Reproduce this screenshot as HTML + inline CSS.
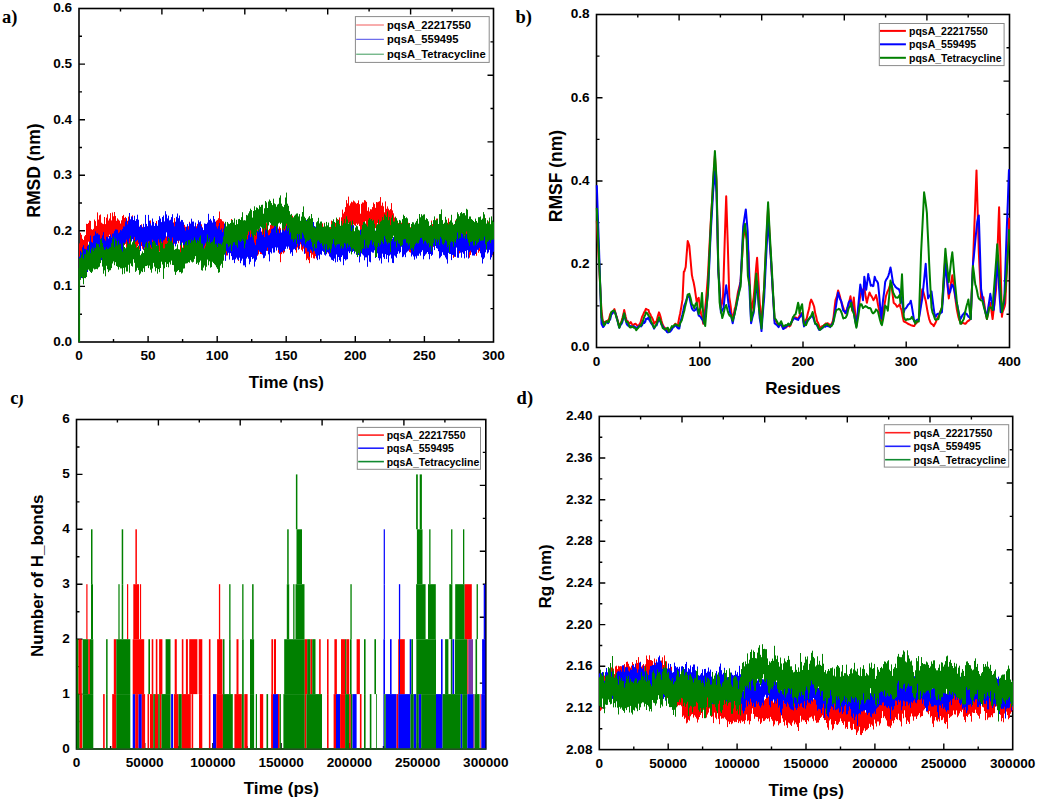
<!DOCTYPE html>
<html><head><meta charset="utf-8"><style>html,body{margin:0;padding:0;background:#fff;overflow:hidden}svg{display:block}</style></head>
<body><svg width="1038" height="802" viewBox="0 0 1038 802"><rect width="1038" height="802" fill="#fff"/><path d="M113.5 342V339M148.1 342V336M182.6 342V339M217.2 342V336M251.7 342V339M286.2 342V336M320.8 342V339M355.3 342V336M389.9 342V339M424.4 342V336M459 342V339M79 314.2H82M79 286.4H85M79 258.6H82M79 230.8H85M79 203H82M79 175.2H85M79 147.5H82M79 119.7H85M79 91.9H82M79 64.1H85M79 36.3H82M120.5 8.5V11.5M161.9 8.5V14.5M203.3 8.5V11.5M244.8 8.5V14.5M286.2 8.5V11.5M327.7 8.5V14.5M369.1 8.5V11.5M410.6 8.5V14.5M452.1 8.5V11.5M493.5 41.9H490.5M493.5 75.2H487.5M493.5 108.5H490.5M493.5 141.9H487.5M493.5 175.2H490.5M493.5 208.6H487.5M493.5 241.9H490.5M493.5 275.3H487.5M493.5 308.6H490.5" stroke="#000" stroke-width="1.4" fill="none"/><rect x="79" y="8.5" width="414.5" height="333.5" stroke="#000" stroke-width="1.6" fill="none"/><g font-family='"Liberation Sans", sans-serif' font-weight="bold" font-size="13.6" fill="#000"><text x="79" y="360" text-anchor="middle">0</text><text x="148.1" y="360" text-anchor="middle">50</text><text x="217.2" y="360" text-anchor="middle">100</text><text x="286.2" y="360" text-anchor="middle">150</text><text x="355.3" y="360" text-anchor="middle">200</text><text x="424.4" y="360" text-anchor="middle">250</text><text x="493.5" y="360" text-anchor="middle">300</text><text x="72.2" y="345.9" text-anchor="end">0.0</text><text x="72.2" y="290.3" text-anchor="end">0.1</text><text x="72.2" y="234.7" text-anchor="end">0.2</text><text x="72.2" y="179.1" text-anchor="end">0.3</text><text x="72.2" y="123.6" text-anchor="end">0.4</text><text x="72.2" y="68" text-anchor="end">0.5</text><text x="72.2" y="12.4" text-anchor="end">0.6</text></g><path d="M648.1 347.5V344.5M699.8 347.5V341.5M751.4 347.5V344.5M803 347.5V341.5M854.6 347.5V344.5M906.2 347.5V341.5M957.9 347.5V344.5M596.5 305.9H599.5M596.5 264.2H602.5M596.5 222.6H599.5M596.5 181H602.5M596.5 139.4H599.5M596.5 97.7H602.5M596.5 56.1H599.5M637.8 14.5V17.5M679.1 14.5V20.5M720.4 14.5V17.5M761.7 14.5V20.5M803 14.5V17.5M844.3 14.5V20.5M885.6 14.5V17.5M926.9 14.5V20.5M968.2 14.5V17.5M1009.5 47.8H1006.5M1009.5 81.1H1003.5M1009.5 114.4H1006.5M1009.5 147.7H1003.5M1009.5 181H1006.5M1009.5 214.3H1003.5M1009.5 247.6H1006.5M1009.5 280.9H1003.5M1009.5 314.2H1006.5" stroke="#000" stroke-width="1.4" fill="none"/><rect x="596.5" y="14.5" width="413" height="333" stroke="#000" stroke-width="1.6" fill="none"/><g font-family='"Liberation Sans", sans-serif' font-weight="bold" font-size="13.6" fill="#000"><text x="596.5" y="365.5" text-anchor="middle">0</text><text x="699.8" y="365.5" text-anchor="middle">100</text><text x="803" y="365.5" text-anchor="middle">200</text><text x="906.2" y="365.5" text-anchor="middle">300</text><text x="1009.5" y="365.5" text-anchor="middle">400</text><text x="589.7" y="351.4" text-anchor="end">0.0</text><text x="589.7" y="268.1" text-anchor="end">0.2</text><text x="589.7" y="184.9" text-anchor="end">0.4</text><text x="589.7" y="101.6" text-anchor="end">0.6</text><text x="589.7" y="18.4" text-anchor="end">0.8</text></g><path d="M110.6 749V746M144.7 749V743M178.8 749V746M212.9 749V743M247 749V746M281.1 749V743M315.3 749V746M349.4 749V743M383.5 749V746M417.6 749V743M451.7 749V746M76.5 721.5H79.5M76.5 694.1H82.5M76.5 666.6H79.5M76.5 639.2H82.5M76.5 611.7H79.5M76.5 584.2H82.5M76.5 556.8H79.5M76.5 529.3H82.5M76.5 501.9H79.5M76.5 474.4H82.5M76.5 447H79.5M117.4 419.5V422.5M158.4 419.5V425.5M199.3 419.5V422.5M240.2 419.5V425.5M281.1 419.5V422.5M322.1 419.5V425.5M363 419.5V422.5M403.9 419.5V425.5M444.9 419.5V422.5M485.8 452.4H482.8M485.8 485.4H479.8M485.8 518.4H482.8M485.8 551.3H479.8M485.8 584.2H482.8M485.8 617.2H479.8M485.8 650.1H482.8M485.8 683.1H479.8M485.8 716H482.8" stroke="#000" stroke-width="1.4" fill="none"/><rect x="76.5" y="419.5" width="409.3" height="329.5" stroke="#000" stroke-width="1.6" fill="none"/><g font-family='"Liberation Sans", sans-serif' font-weight="bold" font-size="13.6" fill="#000"><text x="76.5" y="767" text-anchor="middle">0</text><text x="144.7" y="767" text-anchor="middle">50000</text><text x="212.9" y="767" text-anchor="middle">100000</text><text x="281.1" y="767" text-anchor="middle">150000</text><text x="349.4" y="767" text-anchor="middle">200000</text><text x="417.6" y="767" text-anchor="middle">250000</text><text x="485.8" y="767" text-anchor="middle">300000</text><text x="69.7" y="752.9" text-anchor="end">0</text><text x="69.7" y="698" text-anchor="end">1</text><text x="69.7" y="643.1" text-anchor="end">2</text><text x="69.7" y="588.1" text-anchor="end">3</text><text x="69.7" y="533.2" text-anchor="end">4</text><text x="69.7" y="478.3" text-anchor="end">5</text><text x="69.7" y="423.4" text-anchor="end">6</text></g><path d="M633.8 749.6V746.6M668.2 749.6V743.6M702.6 749.6V746.6M737.1 749.6V743.6M771.5 749.6V746.6M806 749.6V743.6M840.5 749.6V746.6M874.9 749.6V743.6M909.4 749.6V746.6M943.8 749.6V743.6M978.2 749.6V746.6M599.3 728.8H602.3M599.3 707.9H605.3M599.3 687.1H602.3M599.3 666.3H605.3M599.3 645.5H602.3M599.3 624.6H605.3M599.3 603.8H602.3M599.3 583H605.3M599.3 562.2H602.3M599.3 541.3H605.3M599.3 520.5H602.3M599.3 499.7H605.3M599.3 478.9H602.3M599.3 458H605.3M599.3 437.2H602.3M640.6 416.4V419.4M682 416.4V422.4M723.3 416.4V419.4M764.7 416.4V422.4M806 416.4V419.4M847.3 416.4V422.4M888.7 416.4V419.4M930 416.4V422.4M971.4 416.4V419.4M1012.7 449.7H1009.7M1012.7 483H1006.7M1012.7 516.4H1009.7M1012.7 549.7H1006.7M1012.7 583H1009.7M1012.7 616.3H1006.7M1012.7 649.6H1009.7M1012.7 683H1006.7M1012.7 716.3H1009.7" stroke="#000" stroke-width="1.4" fill="none"/><rect x="599.3" y="416.4" width="413.4" height="333.2" stroke="#000" stroke-width="1.6" fill="none"/><g font-family='"Liberation Sans", sans-serif' font-weight="bold" font-size="13.6" fill="#000"><text x="599.3" y="767.6" text-anchor="middle">0</text><text x="668.2" y="767.6" text-anchor="middle">50000</text><text x="737.1" y="767.6" text-anchor="middle">100000</text><text x="806" y="767.6" text-anchor="middle">150000</text><text x="874.9" y="767.6" text-anchor="middle">200000</text><text x="943.8" y="767.6" text-anchor="middle">250000</text><text x="1012.7" y="767.6" text-anchor="middle">300000</text><text x="592.5" y="753.5" text-anchor="end">2.08</text><text x="592.5" y="711.8" text-anchor="end">2.12</text><text x="592.5" y="670.2" text-anchor="end">2.16</text><text x="592.5" y="628.5" text-anchor="end">2.20</text><text x="592.5" y="586.9" text-anchor="end">2.24</text><text x="592.5" y="545.2" text-anchor="end">2.28</text><text x="592.5" y="503.6" text-anchor="end">2.32</text><text x="592.5" y="461.9" text-anchor="end">2.36</text><text x="592.5" y="420.3" text-anchor="end">2.40</text></g><path d="M79.5 243.4V263M80.5 232.8V257.3M81.5 234.8V259.8M82.5 238.8V262.4M83.5 240V261M84.5 236.3V259.6M85.5 235V259.8M86.5 223.8V250.2M87.5 224V251.4M88.5 222.9V241.7M89.5 220.5V245.1M90.5 220.9V243.6M91.5 229.2V250.1M92.5 229.8V255.6M93.5 228.8V251.1M94.5 219.6V244.1M95.5 221.2V247.7M96.5 225.9V251.5M97.5 212.4V243.6M98.5 219.6V238.4M99.5 215.3V239.7M100.5 214.5V240.2M101.5 222.7V248.7M102.5 223.6V245.9M103.5 224.1V249.5M104.5 217V248.8M105.5 224.1V245.8M106.5 217.7V242.5M107.5 214.3V240.4M108.5 220.5V237.4M109.5 218.5V234.7M110.5 213.1V244.9M111.5 220.4V237.7M112.5 212.5V236.9M113.5 216.3V236.5M114.5 212V237.9M115.5 215.9V235.7M116.5 220.8V242.9M117.5 218.3V238.5M118.5 219.6V239.5M119.5 220.7V242.6M120.5 223.5V246.8M121.5 220.3V243.7M122.5 216.1V240.6M123.5 214.9V240.2M124.5 217.9V245.1M125.5 216.9V243.9M126.5 222V247.7M127.5 220.8V241.5M128.5 216.6V239.3M129.5 220V244.1M130.5 223.1V240.8M131.5 218.2V236.7M132.5 215.4V237.2M133.5 220.1V242.1M134.5 221.3V246.6M135.5 224.2V251.1M136.5 221.9V248.4M137.5 224.7V246.1M138.5 221.5V244.4M139.5 226.7V249.5M140.5 226.1V247.9M141.5 224.3V246.1M142.5 226.9V248.8M143.5 231.7V250.1M144.5 228.5V248.7M145.5 225.2V248.2M146.5 230.3V248.8M147.5 226.3V249M148.5 227.8V247.8M149.5 228.8V246.1M150.5 220.4V249M151.5 227.7V249.1M152.5 225.9V252.2M153.5 226.4V249.9M154.5 226.2V249.1M155.5 225V247.8M156.5 221V243.5M157.5 229V251M158.5 225.9V250.2M159.5 227.5V251.6M160.5 227.6V251.6M161.5 227.8V251.1M162.5 230.1V250.5M163.5 235.9V257.2M164.5 234.1V257.1M165.5 227.8V252.3M166.5 236.4V256M167.5 235.9V254.8M168.5 228.2V254.9M169.5 227.7V250.3M170.5 232.2V251.4M171.5 230.2V250.9M172.5 229.8V253M173.5 222.4V249.9M174.5 218.1V243.8M175.5 225.3V244.7M176.5 222.5V241.4M177.5 219.1V240.9M178.5 221.2V243.2M179.5 219.1V240.6M180.5 228.3V253.5M181.5 222.7V244.9M182.5 222.8V242.6M183.5 223.2V249.8M184.5 224.8V247.6M185.5 226.7V251.7M186.5 231V252M187.5 229.4V252.7M188.5 226.2V245M189.5 221.8V250.7M190.5 226.5V246.1M191.5 223.5V248.1M192.5 225.3V250.1M193.5 225.9V253.6M194.5 228.6V251.1M195.5 227.4V251.1M196.5 226.3V247.6M197.5 223.9V250.6M198.5 227.8V256.3M199.5 227.3V248.4M200.5 225V248.4M201.5 224.3V244.1M202.5 227.3V252M203.5 230.1V253.1M204.5 229.4V251.1M205.5 224.3V248.7M206.5 234.2V254.4M207.5 232.7V254.4M208.5 232.8V258M209.5 230.8V250.5M210.5 231.3V258.1M211.5 230.2V254.9M212.5 230V253.5M213.5 227.7V252.1M214.5 228V250.6M215.5 221.8V248M216.5 220.6V242.6M217.5 219.8V241.5M218.5 218.2V241M219.5 211.5V237.8M220.5 219V240.2M221.5 219.4V239.1M222.5 221.2V240.3M223.5 221.5V245.8M224.5 223.7V245.9M225.5 222.3V251.4M226.5 232.4V255.5M227.5 229.3V255.4M228.5 234.4V251.8M229.5 227V248.7M230.5 227.3V249.7M231.5 219V246.1M232.5 226.4V250.7M233.5 227.4V250.7M234.5 230.9V251.8M235.5 227.6V251.5M236.5 230.7V250.5M237.5 233.4V255.5M238.5 235.8V260.9M239.5 233.8V256.2M240.5 235.6V257M241.5 235.4V256.7M242.5 237.5V255.8M243.5 234.7V259M244.5 231.7V250.7M245.5 232V254M246.5 225.9V252.2M247.5 227.9V247.9M248.5 224.9V251.9M249.5 229.8V247.8M250.5 225.8V246.3M251.5 226.1V250.1M252.5 227V248.9M253.5 228.6V253.4M254.5 230.4V254.4M255.5 227.9V252.2M256.5 225.2V252.2M257.5 230.1V255.8M258.5 229.5V254.4M259.5 228.5V250.5M260.5 234.4V254M261.5 231.5V254.1M262.5 227.6V247.9M263.5 229.7V252.3M264.5 227V251.7M265.5 234V254.5M266.5 223.1V249.8M267.5 223.6V250.9M268.5 230.2V246.7M269.5 228.8V249.9M270.5 224.9V246.6M271.5 223.5V246.1M272.5 223.5V244M273.5 225.8V248.2M274.5 224.5V248.5M275.5 223.1V245.8M276.5 219.9V244.8M277.5 222.3V246.9M278.5 228.6V252.7M279.5 226.5V247.5M280.5 228.2V262.2M281.5 234.2V254.1M282.5 229.9V250.1M283.5 227.8V253.5M284.5 227.1V252.3M285.5 221.9V244.9M286.5 219.2V244.5M287.5 223.2V244.6M288.5 223.5V243.1M289.5 224.5V249.8M290.5 224.8V247.7M291.5 223.8V242.1M292.5 215.7V242.2M293.5 222.4V244.8M294.5 221.4V245.2M295.5 225.6V247.5M296.5 223.5V252.6M297.5 221.4V247.6M298.5 225.3V248.4M299.5 227.9V248.9M300.5 225.7V244.3M301.5 224.6V249.8M302.5 229.3V251.4M303.5 229V248.7M304.5 225.9V249.7M305.5 234.6V253.5M306.5 236V260.2M307.5 237V258.6M308.5 235V260.1M309.5 235.1V263.2M310.5 233.7V253.1M311.5 238.6V257.8M312.5 238.4V254.6M313.5 234V258.3M314.5 229.1V258.6M315.5 229.2V256.1M316.5 234.6V258.5M317.5 230.8V259.2M318.5 228.4V251M319.5 230.9V256M320.5 229.4V252.8M321.5 231.2V253.5M322.5 223.4V248.2M323.5 226.6V248.9M324.5 222.8V248.7M325.5 229.8V253.6M326.5 229.2V253.8M327.5 226.3V252.2M328.5 229.9V253.6M329.5 231.8V253.2M330.5 226.9V250.7M331.5 220.6V250.2M332.5 227.5V256.1M333.5 229.4V254.1M334.5 224.5V249.1M335.5 222.9V243.2M336.5 221.7V250.7M337.5 219V242.2M338.5 221.7V241.3M339.5 217.4V240.9M340.5 226.8V250.3M341.5 217.3V245.6M342.5 209.6V235.8M343.5 213.5V237M344.5 211.8V236.1M345.5 207.1V227.3M346.5 200.1V227.2M347.5 203.4V220.6M348.5 196.6V223.5M349.5 205.6V226.7M350.5 203.4V228.8M351.5 201.7V226M352.5 202.3V230.7M353.5 200.5V224.3M354.5 201.4V225.1M355.5 202.6V225.9M356.5 203.7V223.6M357.5 203V225.1M358.5 200.4V223.8M359.5 204.2V226.1M360.5 213.7V234.1M361.5 203.8V230M362.5 202.4V226.1M363.5 202.6V223.7M364.5 200.1V223.7M365.5 200.6V221.1M366.5 201.9V225.7M367.5 210.8V230.4M368.5 207.3V233.9M369.5 211.4V234M370.5 209.2V231.5M371.5 209.4V236.3M372.5 207.1V231.3M373.5 202.6V225.1M374.5 204.1V225.8M375.5 207.8V228.1M376.5 202V226.2M377.5 202.3V223.2M378.5 201.8V227.3M379.5 201.2V226.4M380.5 197.1V225M381.5 205.7V222.5M382.5 202.6V226.9M383.5 206.3V232.1M384.5 212.3V230.6M385.5 201.4V226.9M386.5 208.8V227.8M387.5 206.4V231M388.5 208.7V232.6M389.5 210.2V233M390.5 209.1V229.4M391.5 203.1V232.6M392.5 210.4V233.7M393.5 213.3V231.6M394.5 217.6V237.5M395.5 216.6V237.7M396.5 220.6V243.6M397.5 221.8V245.5M398.5 223V250.9M399.5 223.4V246.7M400.5 221.5V243.1M401.5 222.7V242.8M402.5 220.5V245.8M403.5 224.4V251.5M404.5 217.3V246.3M405.5 223.4V249.5M406.5 228.2V249.8M407.5 222.2V249.7M408.5 222.8V249.1M409.5 227.9V252.1M410.5 227.2V252.6M411.5 230.1V254.5M412.5 227V249.8M413.5 226.4V245.7M414.5 227.2V250M415.5 230.7V249.7M416.5 231.8V253.5M417.5 232.7V248.7M418.5 229.1V253.1M419.5 227.7V249.5M420.5 226.4V248.3M421.5 220.1V247.4M422.5 225.4V247.7M423.5 227.6V249.7M424.5 224.5V250.1M425.5 225.1V249.3M426.5 228.6V250.1M427.5 226.6V250.4M428.5 226V247M429.5 229.4V246.9M430.5 225.4V242.7M431.5 220.6V244.5M432.5 224.1V244.1M433.5 223V246.9M434.5 222.5V244.4M435.5 222.4V240.5M436.5 218.6V245.4M437.5 218.6V242.6M438.5 224.8V247.5M439.5 221.4V244.8M440.5 219.4V251.2M441.5 226.4V250.5M442.5 228.1V247.6M443.5 224.4V247.3M444.5 225.2V248.8M445.5 222.5V242.1M446.5 225.1V247.7M447.5 229.5V250.2M448.5 218.3V247.4M449.5 225.2V242.6M450.5 223.2V245.8M451.5 224.7V247.9M452.5 223.4V247.9M453.5 224.6V257.9M454.5 228.9V250.7M455.5 220.4V252.1M456.5 220.4V242.7M457.5 223.8V248.4M458.5 226.9V248.4M459.5 229.5V253.4M460.5 228.7V248.4M461.5 219.8V250.4M462.5 227.7V252.2M463.5 229.4V250.7M464.5 229.4V250.2M465.5 223.7V242.2M466.5 224.1V243.9M467.5 227.2V249.6M468.5 226.7V256.2M469.5 229.2V257.7M470.5 230.7V254.9M471.5 224.7V244M472.5 225.2V248.1M473.5 226.3V247.4M474.5 230.6V252.3M475.5 228V249.3M476.5 229.7V255.8M477.5 224.1V248.5M478.5 228.3V252.8M479.5 221.5V251.2M480.5 221.2V248.8M481.5 224.5V242.9M482.5 225.1V247.9M483.5 226.8V247.2M484.5 218.4V246M485.5 218.1V246.3M486.5 226V246.6M487.5 226.8V244.3M488.5 221.4V250.1M489.5 230.9V249.4M490.5 229.1V251.3M491.5 224.3V251.7M492.5 230.8V255.3M493.5 232.1V250.8" stroke="#ff0000" stroke-width="1.0" fill="none"/><path d="M79.5 256.7V282.9M80.5 250.8V277.2M81.5 252.6V278M82.5 247.3V276.7M83.5 245.2V271.4M84.5 248.7V270.1M85.5 249.1V273.7M86.5 249.4V268.9M87.5 246V272M88.5 244.7V268.3M89.5 241.6V267.6M90.5 235.5V261.8M91.5 241.9V262.3M92.5 242.7V267M93.5 236V258.7M94.5 235.4V257.9M95.5 231.5V255.2M96.5 233.7V259.7M97.5 233.2V258.1M98.5 234.5V260.6M99.5 234.7V256.9M100.5 238.9V261.4M101.5 237.9V260.2M102.5 235.4V257.8M103.5 232.1V254.4M104.5 238.8V258.6M105.5 240.7V259.5M106.5 236.8V257.9M107.5 236.8V264.4M108.5 238.4V258.9M109.5 236V255.3M110.5 234.5V258.7M111.5 237.3V258.7M112.5 233.6V258.4M113.5 233.4V255.2M114.5 231V251.6M115.5 229.4V256.2M116.5 229.5V252.1M117.5 229.8V250.1M118.5 233.2V249.7M119.5 232.2V255.9M120.5 229.9V252.5M121.5 230.5V254.9M122.5 229V253.8M123.5 226.4V250.8M124.5 226.6V244M125.5 221.6V242.4M126.5 218.2V239.7M127.5 224.4V247.4M128.5 220.8V246.9M129.5 213V238.6M130.5 219.3V237.4M131.5 216.4V241.5M132.5 216.7V239.2M133.5 220.1V242.1M134.5 215.8V237.1M135.5 220.9V241.8M136.5 219.1V240.8M137.5 214.7V240.1M138.5 219.7V242.7M139.5 226.8V246.2M140.5 225V251M141.5 225.5V242.1M142.5 227.8V246.2M143.5 223.8V249.6M144.5 226.9V247M145.5 214.9V244.7M146.5 223.9V252.5M147.5 226.4V250.2M148.5 214.9V241.4M149.5 220.7V242.1M150.5 223.4V244.9M151.5 225.5V247.5M152.5 218.5V239.7M153.5 221.8V242.9M154.5 226V247M155.5 223.1V244.6M156.5 224.1V245.6M157.5 225.8V247.7M158.5 220.1V239.5M159.5 216.2V242.6M160.5 218.5V239.9M161.5 222.1V241.8M162.5 217V243.3M163.5 215.5V240.5M164.5 221.4V239.7M165.5 211.2V237.7M166.5 214.4V232.4M167.5 218.4V241.1M168.5 215.7V237.3M169.5 220.4V239.1M170.5 219.7V245.7M171.5 217.1V241.2M172.5 214.2V237.5M173.5 223.1V259.2M174.5 226.3V242.9M175.5 221.7V246.4M176.5 216.8V243.8M177.5 213.5V240.5M178.5 218.2V241.4M179.5 215.5V240.5M180.5 221.5V245.2M181.5 219.9V246M182.5 220.1V242.4M183.5 222.3V245.2M184.5 227.4V246.1M185.5 230.6V251.1M186.5 226.7V252.1M187.5 224.1V248M188.5 229.6V249.6M189.5 222.6V248M190.5 223.6V245.8M191.5 218.7V243.3M192.5 221.6V245.5M193.5 221.5V244.1M194.5 226.3V245.6M195.5 222.6V245.1M196.5 228.2V251.7M197.5 225.5V251M198.5 220.3V246.2M199.5 222.2V240.6M200.5 221.3V246.5M201.5 226.1V246.7M202.5 228V251.3M203.5 230.2V251M204.5 223.5V245.6M205.5 223.8V243.4M206.5 224V244.9M207.5 222.6V242.5M208.5 213.8V241.8M209.5 220V238.6M210.5 218.8V245.3M211.5 220.6V245.7M212.5 222.5V243.5M213.5 216V241.5M214.5 219.1V237.2M215.5 221.8V247.9M216.5 226.5V246.1M217.5 228.5V251.6M218.5 226.1V250.6M219.5 223V257.2M220.5 229.9V249.9M221.5 228.4V250.3M222.5 232.1V250M223.5 228.5V253.7M224.5 223.6V247.8M225.5 228.9V260.9M226.5 229.5V251.3M227.5 228.8V254.5M228.5 231V252.8M229.5 234.3V259.6M230.5 235.3V253.2M231.5 232.4V256.1M232.5 236.6V260.1M233.5 241.1V259.7M234.5 240.2V263.1M235.5 237.8V259.3M236.5 237.6V257.7M237.5 236.2V259.5M238.5 239.1V260.1M239.5 236.5V257.7M240.5 230.9V263.2M241.5 236.8V260.7M242.5 233.9V258.7M243.5 238.3V265.4M244.5 234.9V265.4M245.5 241.2V267.2M246.5 236.5V258.5M247.5 239.5V256.9M248.5 235.2V258.7M249.5 231.2V264.3M250.5 237.2V261.8M251.5 233.4V257M252.5 234.1V259.1M253.5 235V258.4M254.5 242.6V266.6M255.5 245.1V261.6M256.5 239.3V259.7M257.5 231V254.8M258.5 228.3V250.1M259.5 229.6V251.7M260.5 227.7V252M261.5 232.1V252.9M262.5 234.9V254.7M263.5 233.1V258.3M264.5 237V257.8M265.5 229.9V255.7M266.5 229.4V250.9M267.5 227.5V247.6M268.5 235.3V254.3M269.5 235.1V261.4M270.5 233.1V252.2M271.5 229.1V253.5M272.5 228.7V248.3M273.5 227.9V252.6M274.5 224.2V252.5M275.5 223.2V247.3M276.5 225.9V250.6M277.5 227.2V247.6M278.5 229.7V249.9M279.5 233.1V253.9M280.5 229.8V252.8M281.5 232.5V251.8M282.5 224.3V252.3M283.5 229.5V250.4M284.5 231.1V251.1M285.5 229.6V248.9M286.5 225.8V246.6M287.5 224.6V248.7M288.5 227.9V246.6M289.5 225.7V248.6M290.5 225.7V253.6M291.5 233.8V252.2M292.5 229.2V255.9M293.5 229.7V249.5M294.5 231.3V248.9M295.5 224.8V250.2M296.5 225.6V247.1M297.5 224.3V243.9M298.5 223.2V249.7M299.5 219.5V246M300.5 223.1V242.3M301.5 221.9V244.6M302.5 225.8V246.9M303.5 225.8V245.5M304.5 227.7V253.9M305.5 220.9V247.4M306.5 220.1V248.2M307.5 223.6V251.5M308.5 224V251.8M309.5 226.2V256.8M310.5 225.9V249.5M311.5 223.4V250.7M312.5 226.7V252.7M313.5 222V244.4M314.5 226.1V251M315.5 226.7V253.8M316.5 234.9V257.5M317.5 235.6V260.1M318.5 233.8V255.5M319.5 233V259.3M320.5 236.6V254.3M321.5 227.3V254.8M322.5 228V250.9M323.5 228.4V251.9M324.5 230.9V254.7M325.5 232.6V255.6M326.5 227.5V254.2M327.5 226.6V252.2M328.5 236V252.6M329.5 234.1V256.4M330.5 230.8V257.4M331.5 233.3V259.7M332.5 234V260.1M333.5 238.5V261M334.5 238.3V258.6M335.5 236.7V262.4M336.5 233.6V254.5M337.5 234.3V261.8M338.5 231.1V257M339.5 235V260.2M340.5 240.8V261.7M341.5 237.6V257M342.5 233.3V255.4M343.5 238.9V265.2M344.5 240.4V259M345.5 236.7V260.5M346.5 238.3V259.5M347.5 234.9V259.2M348.5 228.7V251.4M349.5 225.7V253.1M350.5 228.9V251.4M351.5 225.2V252M352.5 229.6V252M353.5 225.2V251M354.5 235.1V253.5M355.5 228.9V250.9M356.5 230.2V254.9M357.5 227.1V250M358.5 235V255M359.5 234.8V262.4M360.5 229.8V256.7M361.5 229.7V253.4M362.5 234.1V254.4M363.5 235V255.5M364.5 237.6V260.3M365.5 228.6V257.4M366.5 233.1V257.4M367.5 239V266.8M368.5 234.6V255.4M369.5 238.8V261.7M370.5 238V262.3M371.5 232.4V251.8M372.5 228.9V252.6M373.5 227.6V252.7M374.5 232.5V250.3M375.5 230.7V258M376.5 235V256.8M377.5 232.2V253.3M378.5 233.6V258.1M379.5 234.9V260.5M380.5 235.5V258.4M381.5 236.2V263.5M382.5 235.1V253.7M383.5 239.3V257.2M384.5 235.1V258.9M385.5 229.3V254.1M386.5 233.2V259M387.5 236.5V255.1M388.5 237.3V262.4M389.5 231.7V255.7M390.5 234.4V254.6M391.5 235.3V258.5M392.5 238.9V262.9M393.5 237.1V263.1M394.5 236V255.5M395.5 234.8V256.5M396.5 234.3V257.8M397.5 231.8V253.9M398.5 231.1V251.3M399.5 234V253.5M400.5 228.5V252.2M401.5 226.9V246.8M402.5 230.5V257.2M403.5 235V256.6M404.5 229.3V254.6M405.5 232.5V257.2M406.5 231.4V252.6M407.5 228.9V251.5M408.5 228.2V250.7M409.5 228.2V249.4M410.5 231.2V249.7M411.5 233.4V256.5M412.5 231.9V254.7M413.5 235.3V256.4M414.5 235.4V259.7M415.5 236.1V256.4M416.5 236.3V258.5M417.5 232.6V255.7M418.5 232.2V255.8M419.5 234.5V253.6M420.5 232V255.6M421.5 228.7V251.9M422.5 228.7V250.3M423.5 236.2V259.3M424.5 233.3V256.1M425.5 231.3V254.6M426.5 234.9V253.6M427.5 232.1V252M428.5 230.4V254.1M429.5 230.6V259.3M430.5 231V254M431.5 229.2V255.9M432.5 228V254.8M433.5 224.1V246.1M434.5 226V250.1M435.5 227.4V246M436.5 227.4V248.1M437.5 225.8V248.7M438.5 231.6V251.2M439.5 229.6V258.4M440.5 232.8V257.3M441.5 229.2V255.9M442.5 231.5V252.3M443.5 235V254.8M444.5 237V255.4M445.5 233.3V257.5M446.5 237.4V259.4M447.5 237.4V263.6M448.5 235.4V252.9M449.5 230.8V253.9M450.5 224.4V254M451.5 231.7V260.1M452.5 233.2V254.9M453.5 230V255.1M454.5 236.7V256.8M455.5 231.7V256.9M456.5 228.1V247.6M457.5 227.2V257.7M458.5 229.6V257.8M459.5 230.8V251M460.5 225V252.7M461.5 232.6V257.7M462.5 234V252.2M463.5 233.2V253.8M464.5 235.7V258.4M465.5 233.5V251M466.5 234V257.6M467.5 231.2V250.2M468.5 237.3V258.6M469.5 233.8V252M470.5 226.7V250.7M471.5 233.7V252.4M472.5 229.9V255.5M473.5 235.7V255.5M474.5 233.4V255.6M475.5 237.3V254M476.5 231.3V252.6M477.5 230.3V249.8M478.5 224.9V249.8M479.5 228.2V247.9M480.5 233.8V253.3M481.5 229.5V257.4M482.5 235.2V263.5M483.5 239.1V259.1M484.5 232.9V257.6M485.5 234V252.3M486.5 233V249.4M487.5 232.5V253.5M488.5 228.7V252.4M489.5 228.3V249.8M490.5 228.3V259.6M491.5 229.8V257.3M492.5 230V254.7M493.5 230V251.8" stroke="#0000ff" stroke-width="1.0" fill="none"/><path d="M79.5 258.4V285.8M80.5 257.8V279.9M81.5 254.7V277M82.5 249.8V278.3M83.5 258.4V284.3M84.5 254.2V278M85.5 254.4V278.2M86.5 249.9V277M87.5 249.9V270.3M88.5 251.5V269.5M89.5 243.3V270.8M90.5 253.2V272.1M91.5 249.3V273M92.5 247.4V271.6M93.5 250.8V268.5M94.5 247.5V269.5M95.5 248.2V269.2M96.5 243.2V268.9M97.5 244.3V269.3M98.5 244.1V267.5M99.5 247.2V266.7M100.5 239.9V263.1M101.5 238.4V257.9M102.5 243V266.6M103.5 247.1V273.7M104.5 249.9V270.3M105.5 249.3V276.3M106.5 247.2V265.8M107.5 249.1V269.2M108.5 248.7V272.1M109.5 247.5V270.5M110.5 247.2V270.2M111.5 243.2V268.1M112.5 239V263.5M113.5 236.7V261.4M114.5 247.2V265.2M115.5 238.4V262.2M116.5 240.9V266M117.5 245.4V266.8M118.5 240.6V269.6M119.5 244.5V267.1M120.5 243.7V268.4M121.5 249.3V268.4M122.5 251.5V274.3M123.5 242.8V267.9M124.5 247V273.7M125.5 248.3V267.4M126.5 247.2V271.5M127.5 241.8V271.5M128.5 243.8V264.8M129.5 243.4V272.8M130.5 235.8V263.5M131.5 244.5V265.9M132.5 242.3V266.6M133.5 241V259.3M134.5 240.1V262.8M135.5 244.4V271.9M136.5 247.9V270.7M137.5 246.7V267.8M138.5 245.5V270.1M139.5 249.5V274.8M140.5 255.2V273.5M141.5 253.6V271.4M142.5 251.4V272.1M143.5 253V268.3M144.5 248.5V271.9M145.5 243.7V266.1M146.5 242V266M147.5 247.6V265.4M148.5 242.8V268.1M149.5 241.2V265.6M150.5 247.6V269.7M151.5 248.9V272.7M152.5 242.1V268.5M153.5 240.9V262.9M154.5 241.2V266.7M155.5 242.9V271.3M156.5 245.6V268.1M157.5 245.6V273.7M158.5 245.4V269.1M159.5 251.8V272.2M160.5 238.9V268M161.5 243.3V261.7M162.5 242.8V264.5M163.5 248.4V278.9M164.5 248.3V268.3M165.5 243.9V262.2M166.5 244V267M167.5 242.7V263.9M168.5 238.1V267.3M169.5 238.8V262.3M170.5 241.5V264.5M171.5 240.3V260.6M172.5 242.6V265M173.5 245.1V265.1M174.5 249.8V271.6M175.5 249.1V274.9M176.5 248.6V272.1M177.5 244.4V270.9M178.5 249.2V270M179.5 249.5V272.2M180.5 252.2V272M181.5 242.6V273.5M182.5 247.6V272.6M183.5 248.1V268.6M184.5 244.6V268.4M185.5 241.9V263.6M186.5 241V263.4M187.5 245V263.2M188.5 240V262.1M189.5 240V262.7M190.5 242.9V260.2M191.5 239.5V261.7M192.5 241.2V262.5M193.5 240V261.8M194.5 237.4V258.9M195.5 239.9V256.1M196.5 242.8V264M197.5 239.8V262.7M198.5 241.1V264.8M199.5 237.5V262.3M200.5 235.5V260.6M201.5 243.5V270.2M202.5 243.7V270.7M203.5 248.2V267.6M204.5 248.5V265.5M205.5 246.3V270.5M206.5 241.7V266.8M207.5 234.5V259.6M208.5 242V265.3M209.5 238.1V261.3M210.5 243.2V267.7M211.5 241.9V267.1M212.5 241.7V261.8M213.5 239.5V263M214.5 237.3V264.2M215.5 244.4V265.3M216.5 243.6V267.3M217.5 247V268.9M218.5 243.1V272.8M219.5 243.9V272.2M220.5 243.6V265.5M221.5 244.6V263.8M222.5 242.3V267.8M223.5 236.6V260.7M224.5 228.5V254.7M225.5 221.8V252.9M226.5 226.4V243.6M227.5 222V244.1M228.5 223.6V247.3M229.5 224.1V246.3M230.5 223V244.4M231.5 220.3V251.1M232.5 219.9V245.7M233.5 222.6V242.5M234.5 218.4V242.2M235.5 224.9V245.2M236.5 219.8V245.2M237.5 224.1V247.7M238.5 219.2V240.1M239.5 218.9V241.5M240.5 220V242M241.5 217.2V240.8M242.5 212.2V239.1M243.5 220.4V241.1M244.5 220.1V248.3M245.5 220.5V243.6M246.5 214.9V239.5M247.5 215.4V234.8M248.5 213.4V231.4M249.5 211.3V231.8M250.5 208.7V230.4M251.5 210.1V233.8M252.5 217.6V236.7M253.5 211V239.9M254.5 206.3V234.9M255.5 210.1V235.9M256.5 207.4V232.6M257.5 207.9V229.8M258.5 209.2V232M259.5 205.3V228.7M260.5 206.9V226.6M261.5 204.9V227.3M262.5 204.7V228.6M263.5 213.7V233.7M264.5 208.3V228.3M265.5 201V230.4M266.5 202.4V222.8M267.5 208V232.7M268.5 201.5V225.5M269.5 199.5V222.1M270.5 200.9V223.2M271.5 203.1V225.2M272.5 205.1V225.7M273.5 198.7V225.9M274.5 203.4V226.5M275.5 204.2V226M276.5 206.7V232.8M277.5 204.6V226.8M278.5 203.8V223.5M279.5 197.7V222.7M280.5 195.4V224.1M281.5 203.7V222.8M282.5 206.2V230.6M283.5 207.1V228.4M284.5 204.8V229.2M285.5 197.5V226.1M286.5 192.6V223.7M287.5 203.7V231M288.5 205.8V228.2M289.5 211.1V234.6M290.5 214.7V232.5M291.5 213.9V239.4M292.5 217.4V239.2M293.5 217.3V241.9M294.5 215.7V239.5M295.5 214.6V238.9M296.5 213.6V243.8M297.5 213.4V234M298.5 216.4V239.9M299.5 214.1V234M300.5 220.8V238.7M301.5 216.6V239.2M302.5 212V232.7M303.5 206.4V234.7M304.5 216.7V238.3M305.5 218.2V243.7M306.5 220.8V242M307.5 218.9V240.7M308.5 217.5V240.8M309.5 216.1V239.9M310.5 218.7V238.9M311.5 214V242M312.5 218.1V246.7M313.5 226.7V251.5M314.5 226.7V244M315.5 227.9V248.3M316.5 222.3V247.9M317.5 221.2V241.3M318.5 217.8V240.2M319.5 223.4V241.9M320.5 221.6V243.8M321.5 221.5V243M322.5 226.8V245.8M323.5 227V248.8M324.5 223.4V244.4M325.5 226.4V253.3M326.5 221.9V244.2M327.5 225.4V249.5M328.5 222.6V249.7M329.5 227.1V247.7M330.5 228.8V252.8M331.5 224.3V248.8M332.5 221.2V243.8M333.5 219.3V239.2M334.5 222V244.7M335.5 226.7V247.4M336.5 217.6V245.1M337.5 220.8V244.2M338.5 219.8V244.2M339.5 224.1V243.9M340.5 225.8V248.5M341.5 221V246M342.5 225.4V248.7M343.5 223.2V247.3M344.5 218.8V243M345.5 223.3V243.7M346.5 216.3V248.2M347.5 219.5V243.5M348.5 223.8V246.9M349.5 222V244.9M350.5 221.3V247M351.5 231V254.4M352.5 220.6V248.5M353.5 228.3V249.2M354.5 231.2V251.3M355.5 227.5V251.7M356.5 225.5V254.2M357.5 226.3V257.1M358.5 229.7V253.2M359.5 230.5V256M360.5 234.7V250.5M361.5 229.5V252.8M362.5 224.9V248.9M363.5 222V248.4M364.5 221.8V239.7M365.5 223.5V248.7M366.5 224.7V245.3M367.5 226.5V247.7M368.5 219.7V247.8M369.5 218V244.6M370.5 219.7V240.6M371.5 219V240.2M372.5 220.9V244.7M373.5 219.9V242.3M374.5 223.7V246.2M375.5 230.9V257M376.5 225.4V257M377.5 224.2V247M378.5 219.7V243.1M379.5 224.1V246.4M380.5 221.6V244.3M381.5 220.6V240.5M382.5 217.1V242.1M383.5 220V243.9M384.5 214.3V236.1M385.5 215.4V239M386.5 217V241.9M387.5 211.5V244.3M388.5 220.2V242.6M389.5 216.9V243.1M390.5 225.1V252.1M391.5 217.8V241.1M392.5 215.3V238.4M393.5 221.5V235.7M394.5 221.5V241.7M395.5 217.3V241.3M396.5 218.2V247.3M397.5 220.6V240.4M398.5 223.8V243.4M399.5 219.9V243.7M400.5 220.6V246.4M401.5 223.9V245.8M402.5 219.1V244.9M403.5 214.7V239.7M404.5 216V239.2M405.5 218.1V239.2M406.5 217.3V242.7M407.5 218.4V243.3M408.5 223.9V245.6M409.5 223V243.6M410.5 228V250M411.5 224V248.2M412.5 222.2V248.5M413.5 222.4V251.2M414.5 224.4V246.2M415.5 222.6V243.9M416.5 220.9V242.7M417.5 218.8V243.6M418.5 223.7V243.1M419.5 214V240.2M420.5 217.3V238M421.5 214.2V237.8M422.5 215.7V239.9M423.5 214.6V243.6M424.5 214.3V241.2M425.5 219.8V240.5M426.5 218.2V242.6M427.5 219.1V244.5M428.5 221.3V243M429.5 225.9V247.4M430.5 225V245.8M431.5 222.4V251.5M432.5 226.1V246.3M433.5 220.1V242.9M434.5 216.4V238.8M435.5 220.2V245.4M436.5 220.3V239.6M437.5 218.9V242.2M438.5 224V239.7M439.5 214.1V245.1M440.5 214.1V237M441.5 209.4V238.8M442.5 220.1V243.7M443.5 223.9V244.8M444.5 222.7V242.8M445.5 216.8V239.8M446.5 219.7V241.2M447.5 222.7V247.1M448.5 224.2V244.9M449.5 221.9V252.4M450.5 220.4V242.6M451.5 214.8V241.3M452.5 222.6V242.1M453.5 225V246.8M454.5 224V241.5M455.5 221.2V242.9M456.5 218.7V239.1M457.5 212.3V232.5M458.5 214.2V239.3M459.5 216.2V237.9M460.5 213.1V237.8M461.5 212V233.2M462.5 213.6V233.6M463.5 213V238M464.5 213.1V235.3M465.5 215.4V239M466.5 208.8V231.5M467.5 209.7V238.8M468.5 218.9V242.5M469.5 216.5V245.9M470.5 216.5V242M471.5 219.1V242M472.5 219.9V240.9M473.5 221V245.4M474.5 222.1V245.5M475.5 218.6V241.2M476.5 221V245M477.5 222.7V243.2M478.5 217.2V242.1M479.5 217.2V238.7M480.5 216.5V241M481.5 219.8V240.6M482.5 218.6V240.5M483.5 212.1V240.5M484.5 214.4V236.6M485.5 218.4V244.3M486.5 223.6V249.5M487.5 220.2V242M488.5 222.5V241.2M489.5 217.6V239.9M490.5 224.2V243.1M491.5 216.4V240.2M492.5 220.5V239.8M493.5 221.8V239.4" stroke="#008000" stroke-width="1.0" fill="none"/><path d="M596.8 220.8 L597.8 241.1 L598.9 260.3 L599.9 280.7 L600.9 300.2 L601.5 310.7 L603.1 323.7 L604 321.8 L604.7 322.1 L606.3 321.3 L607.1 321.6 L608.1 320.1 L608.8 319.7 L610.2 314.3 L611.2 312.4 L612.2 313.2 L613.3 312.4 L614.4 309.1 L615.3 312.3 L616.4 316.2 L616.9 317.2 L617.4 319.4 L618.4 323 L619.3 327 L620.5 324 L621.7 320.5 L622.5 317.8 L623.6 313.3 L624.2 309.9 L625.6 316.5 L626.6 320.5 L627.7 321.2 L629 323.7 L629.8 323.4 L630.7 322.1 L631.8 323.8 L633.1 325.3 L633.9 324.6 L634.9 323.9 L635.5 323.7 L637 325.4 L637.9 326.1 L639 325.1 L640.4 322.9 L641.1 320.3 L642.1 316.7 L642.8 315.6 L644.2 312.2 L645.2 310.5 L646 308.8 L647.3 309.6 L648.5 309.9 L649.3 312.9 L650.4 314.4 L650.9 315.6 L652.4 318.4 L653.4 320.9 L654.1 323.7 L655.5 322 L656.6 321.3 L657.6 316.9 L659 312.4 L659.6 313.8 L660.7 317.4 L661.4 320.5 L662.7 324.7 L663.9 327 L664.8 327.8 L665.8 328.7 L667.1 330.2 L667.9 329.6 L668.9 330.2 L669.5 331 L671 329.3 L672 327.9 L672.8 327 L674 326.1 L675.2 323.7 L676.1 324.8 L677.1 325.4 L677.6 326.1 L678.2 323.2 L679.3 317.2 L680.2 313.2 L681.3 307 L682.5 299.4 L683.8 271.9 L684.3 271.6 L685.7 267 L686.4 257.6 L687.7 241.1 L688.5 243.4 L689.3 245.9 L690.5 259.3 L691.9 275.1 L692.6 278.4 L693.6 282.3 L694.7 288.1 L695.7 295.2 L696.8 302.6 L697.7 299.2 L698.7 297.8 L699.8 305.3 L701.1 314 L701.9 316.1 L703.2 323.7 L703.9 323.3 L704.9 311 L706 299.8 L707 287.8 L707.9 276.2 L709.1 253 L710.5 226.4 L711.1 216.1 L712.2 199.3 L713.1 184.5 L714.2 167.3 L714.9 155.7 L716.5 181.9 L717.3 221 L718.3 270.9 L719.4 284.7 L720.4 299.2 L720.9 307.6 L722.5 301.2 L723 297.1 L724.6 244.7 L725.5 216.3 L726.2 196.3 L727.8 244.7 L728.6 272.9 L729.3 297.1 L730.7 306.4 L731.4 312.8 L732.7 320.7 L733.8 314 L734.8 308.4 L735.3 307.6 L735.8 305 L736.9 298.6 L738 291.9 L738.9 288.4 L740 284 L740.6 281.4 L742 258.9 L743.2 239.5 L744.1 233.8 L745 229 L746.6 236.9 L747.2 241.3 L748.4 252.6 L749.2 270.9 L750.3 294.3 L751.1 312.8 L752.3 305.7 L753.7 297.1 L754.4 289.3 L755.4 276.5 L756.4 264.6 L757.1 257.8 L758.5 282.4 L759.7 302.3 L760.6 312.9 L761.5 325.9 L762.6 310 L764.2 286.6 L764.7 275.7 L765.7 255.2 L766.7 234.6 L768.1 208.1 L768.8 221 L769.8 239.5 L770.7 255.2 L771.9 275.8 L772.9 293.2 L774 310.3 L774.6 320.7 L776 321.3 L777 323.2 L778.6 325.9 L779.1 325.7 L780.1 325.3 L781.1 323.8 L782.2 326.1 L783.1 327.7 L784.3 327.4 L785.7 327.7 L786.3 327.3 L787.3 326 L788.4 325.6 L789.6 326.4 L790.4 325.6 L791.5 322.5 L792.9 318.6 L793.5 317.7 L794.6 318.1 L795.5 317.2 L796.6 318 L798.1 318.6 L798.7 317.7 L799.7 315.5 L800.7 313.2 L802.1 313.3 L802.8 316.8 L804 323.8 L804.9 322.8 L805.9 319.8 L806.7 318.6 L807.9 313 L809.3 308.1 L810 303.1 L811.2 299.6 L812.1 301.4 L813.2 304.2 L814.1 306.5 L815.2 313.3 L816.2 316.7 L817.1 321.2 L818.2 323.1 L819.8 327.7 L820.3 327.4 L821.3 326.8 L822.4 326 L823.4 325.6 L824.3 325.1 L825.5 323.5 L827 323.8 L827.5 323.3 L828.5 323.6 L829.6 325 L830.2 326.4 L831.6 323.8 L832.8 321.2 L833.7 315.8 L834.7 306.6 L835.5 300.2 L836.8 296.6 L838.1 290.4 L838.8 292.5 L839.9 296.2 L841.4 302.8 L841.9 303.2 L843 306.7 L844 309.8 L845.3 313.3 L846.1 311.6 L847.1 308.6 L848.6 305.5 L849.1 302.2 L850.5 296.3 L851.2 301.5 L852.2 310.7 L853.3 302.1 L853.8 297.6 L854.3 304 L855.3 314.4 L856.4 325.1 L857.4 316.6 L858.4 309.3 L859.4 302.1 L860.3 295 L861.5 292.2 L862.5 290.1 L863.6 288.9 L864.3 287.1 L865.6 296.3 L866.9 302.8 L867.7 298.9 L868.7 295.2 L869.5 292.4 L870.8 295.4 L871.8 296.7 L872.8 298.6 L873.4 300.2 L874.9 297.8 L876 295 L877 299.1 L878 304.7 L878.7 308.1 L880 313.5 L881.1 317 L881.9 321.2 L883.1 312 L884.2 306.8 L885.2 300.6 L885.9 296.3 L887.3 292 L888.5 289.8 L889.3 287.3 L890.3 284.2 L891.1 283.2 L892.4 292.9 L893.7 302.8 L894.5 303.6 L895.5 304.3 L897 306.8 L897.6 306.4 L898.6 305.7 L899.6 304.2 L900.6 307.8 L901.5 309.9 L902.7 316.8 L903.8 321.4 L904.8 322 L905.8 322.3 L906.8 322.9 L907.9 323.8 L908.9 324.2 L909.9 324.7 L910.9 325.2 L912 325.4 L913 326 L914.2 326.1 L915.1 324.2 L916.1 323.2 L917.1 322.4 L918.2 320.4 L918.8 319.1 L920.2 306.9 L921.2 297.7 L922.3 289.2 L923.3 291.7 L924.3 295.4 L925.7 300.7 L926.4 304.9 L927.4 310.8 L928.5 316.1 L929.2 319.1 L930.5 322.6 L931.5 324 L932.6 324.4 L933.8 326.1 L934.6 324.5 L935.7 322.5 L936.7 320 L937.7 317.9 L938.8 315.4 L939.8 312.6 L940.8 310.4 L941.9 307.6 L942.9 293.3 L943.9 277.7 L945.4 256.9 L946 264.7 L947 278.4 L948 290.9 L948.8 298.4 L950.1 288.9 L951.1 282.1 L952.3 275.3 L953.2 281.7 L954.2 289.7 L955.2 297.3 L956.3 305.7 L956.9 309.9 L958.3 316.6 L959.4 320.2 L960.3 321.4 L961.4 323.6 L962.4 323 L963.5 323.1 L965 323.7 L965.5 323.7 L966.6 322.5 L967.6 321.2 L968.6 320.8 L969.7 319.6 L970.7 316.8 L971.7 293.9 L973 263.8 L973.8 241.5 L974.8 214.9 L975.8 188.1 L976.5 170.4 L977.9 219.8 L978.8 252.3 L980 276.9 L981.1 298.4 L982 298.5 L983.4 297.2 L984.1 302.3 L985.1 309.4 L986.1 315.3 L986.9 319.1 L988.2 312.7 L989.2 307.5 L990.3 303 L991.3 309.9 L992.6 319.1 L993.3 313 L994.4 304.8 L995.4 295.7 L996.1 289.2 L997.5 251.1 L998.5 222.5 L999.1 207.3 L1000.6 264.7 L1001.9 316.8 L1002.6 312.2 L1003.6 309.5 L1004.7 306.2 L1005.3 303 L1006.7 272.6 L1007.8 251.1 L1008.8 229.2 L1009 217.7" fill="none" stroke="#ff0000" stroke-width="2.0" stroke-linejoin="round"/><path d="M596.8 185.3 L597.8 214.1 L598.9 244.8 L599.9 276.3 L600.9 307.3 L601.5 323.7 L603.1 327 L604 326.1 L604.7 323.7 L606.3 322.1 L607.1 322.3 L608.1 323.1 L608.8 321.3 L610.2 319.3 L611.2 314.8 L612.2 313.7 L613.3 311.4 L614.4 311.6 L615.3 312.8 L616.4 316.8 L616.9 318.8 L617.4 320.2 L618.4 324.6 L619.3 327.8 L620.5 325.1 L621.7 323.7 L622.5 321.6 L623.6 316.8 L624.2 314 L625.6 319.6 L626.6 323.7 L627.7 325.4 L629 326.1 L629.8 326.8 L630.8 325.9 L631.8 326.8 L633.1 327 L633.9 326.2 L634.9 326.9 L636.3 327.8 L637 327.9 L638 326.9 L639 326.2 L640.4 325.3 L641.1 326.4 L642.1 325.2 L643.6 321.3 L644.2 323 L645.2 321.9 L646 318.8 L647.3 319 L648.5 317.2 L649.3 320 L650.4 321.8 L650.9 322.9 L652.4 324.9 L653.4 326.9 L654.1 328.6 L655.5 325.6 L656.6 325.3 L657.6 322.4 L659 318.8 L659.6 320.2 L660.7 322.2 L661.4 324.5 L662.7 325.9 L663.9 328.6 L664.8 328.7 L665.8 330.3 L666.8 331.8 L667.9 332.5 L668.7 331.8 L669.9 331.9 L671 330.6 L672 329.1 L672.8 327.8 L674 326.8 L675.2 325.3 L676.1 325.7 L677.1 327.2 L678.2 328.4 L679.3 328.6 L680.2 323 L681.7 317.2 L682.3 314.9 L683.3 310.5 L684.3 305.4 L684.9 304.3 L686.4 299.9 L687.7 296.2 L688.5 296.7 L689.3 296.2 L690.5 302.5 L691.9 308.3 L692.6 309.6 L693.6 310.6 L694.2 310.7 L695.7 309.4 L696.8 307.5 L697.7 311.4 L698.7 315.6 L699.8 316.2 L700.7 317.2 L701.9 319.1 L703.2 320.5 L703.9 323.3 L704.9 316.9 L706 309.5 L707 301.9 L707.9 294.5 L709.1 269 L710.5 236.9 L711.1 226.5 L712.2 208.1 L713.1 192.4 L714.2 179.7 L714.9 171.4 L716.5 192.4 L717.3 225.7 L718.3 270.9 L719.4 286.2 L720.4 302.8 L720.9 312.8 L722.5 310 L723.6 307.6 L724.5 298.6 L725.5 290.5 L726.2 285.3 L727.6 296.1 L728.3 302.3 L730.1 312.8 L730.7 314.2 L731.7 318.9 L732.7 323.3 L733.8 317.6 L734.8 312.4 L735.3 310.2 L735.8 308.8 L736.9 303.3 L738 297.1 L738.9 291.8 L740 286.1 L740.6 281.4 L742 252 L743.2 226.4 L744.1 220.4 L745.1 213.9 L745.8 209.4 L747.7 231.6 L748.2 249.3 L749.2 281.5 L749.8 297.1 L750.3 307.7 L751.1 323.3 L752.3 317.8 L753.7 312.8 L754.4 306.7 L755.4 297.7 L756.4 287.6 L757.1 281.4 L758.5 300.7 L759.7 318.1 L760.6 323.4 L761.5 331.1 L762.6 316 L764.2 297.1 L764.7 286.8 L765.7 265.9 L766.7 246.2 L768.1 218.6 L768.8 229.4 L769.8 243.3 L770.7 255.2 L771.9 275.6 L772.9 293.4 L774 312.1 L774.6 323.3 L776 324.5 L777 325.1 L778.6 327.2 L779.1 325.5 L780.1 323.8 L781.1 323.8 L782.2 326.6 L783.1 329 L784.3 328.4 L785.7 326.4 L786.3 326.7 L787.3 325.6 L788.4 324.6 L789.6 325.1 L790.4 324 L791.5 321.8 L792.9 319.9 L793.5 318.2 L794.6 318.5 L795.5 318.6 L796.6 319.3 L798.1 319.9 L798.7 318.8 L799.7 317.3 L800.7 316 L802.1 313.3 L802.8 317.6 L804 326.4 L804.9 324.6 L805.9 322.6 L806.7 321.2 L807.9 320.6 L809.3 318.6 L810 318 L811 316.7 L812.6 315.9 L813.1 317.4 L814.1 320.2 L815.2 323.8 L816.2 324.3 L817.2 325.8 L818.4 328.4 L819.3 329.9 L820.3 329.4 L821.1 329 L822.4 328.1 L823.4 327.1 L824.3 326.4 L825.5 326.7 L827 324.4 L827.5 326 L828.5 326.4 L829.6 326 L830.2 327.1 L831.6 324.4 L832.8 323.8 L833.7 319.5 L834.7 314 L836.1 305.5 L836.8 300.6 L838.1 292.4 L838.8 295.1 L839.9 298.7 L841.4 301.5 L841.9 304.6 L843.3 310.7 L844 311.1 L845 311.9 L845.9 313.3 L847.1 308.9 L848.6 302.8 L849.1 301.8 L850.5 300.2 L851.2 302.4 L852.2 305.7 L853.3 309.9 L853.8 313.3 L854.3 315.4 L855.3 321.3 L856.4 326.4 L857.4 315.6 L858.4 304.5 L859.4 293.9 L860.3 284.5 L861.5 290.6 L863 300.2 L863.6 290.3 L864.3 276.7 L865.6 285.4 L866.2 289.8 L867.7 278.8 L868.2 274 L868.7 276.7 L869.7 280.4 L870.8 285.8 L871.8 285.1 L872.8 286.2 L873.4 285.8 L874.7 276.7 L875.9 280.3 L877 281.2 L878 283.2 L879 292.8 L880 304.8 L881.3 318.6 L882.1 309.7 L883.1 299.6 L884.2 291.6 L885.2 281.9 L886.2 279.6 L887.3 278.1 L888.5 275.3 L889.3 272.5 L890.5 267.5 L891.4 272.3 L892.4 279 L893.1 283.2 L894.5 285.2 L895.7 287.1 L896.5 287.7 L897.6 288.8 L898.6 288.7 L899.6 291.1 L900.6 295.2 L901.7 300.7 L902.7 305.4 L903.8 312.2 L904.8 308.9 L905.8 308.4 L906.8 307 L907.9 305 L908.9 304.1 L909.9 303.1 L910.8 300.7 L912 307.3 L913 313.6 L914.2 321.4 L915.1 321.3 L916.1 320.5 L917.1 319.8 L918.2 319.6 L918.8 319.1 L920.2 311.1 L921.2 304.7 L922.3 298.4 L923.3 288 L924.3 278.2 L925.7 263.8 L926.4 275 L927.4 289.5 L928.1 298.4 L929.5 295.8 L930.5 294.8 L931.5 291.5 L932.6 300 L933.6 307.8 L935 316.8 L935.7 316.8 L936.7 314.6 L937.7 313.8 L938.8 313.8 L939.8 313.5 L940.8 313.1 L941.9 312.2 L942.9 299 L943.9 284.6 L945.4 263.8 L946 269.9 L947 279.1 L948 288.6 L948.8 293.8 L950.1 291.9 L951.1 287.7 L951.8 284.5 L953.2 286.2 L954.6 291.5 L955.2 295 L956.3 301.2 L957.3 305.3 L958.3 310 L959.4 315.7 L960.3 319.1 L961.4 317.4 L962.4 315.1 L963.5 314 L965 312.2 L965.5 313.7 L966.6 313.8 L967.6 315.4 L968.6 316.8 L969.7 317.4 L970.7 319.1 L971.7 294.6 L973 263.8 L973.8 256.7 L974.8 246.4 L975.8 235.6 L977.2 222.3 L977.9 218.6 L978.8 215.4 L980 252 L981.1 289.2 L982 294.2 L983.4 303 L984.1 306.1 L985.1 310.6 L986.1 315 L986.9 316.8 L988.2 307.6 L989.2 301.4 L990.3 293.8 L991.3 299.7 L992.3 304.7 L993.8 309.9 L994.4 301.2 L995.4 287.2 L996.4 273.2 L997.2 261.5 L998.5 279.1 L999.5 294.7 L1000.7 312.2 L1001.6 311.5 L1002.6 308.4 L1003.6 304.2 L1004.2 303 L1004.7 287.5 L1005.7 259.1 L1006.7 230.9 L1007.8 202.6 L1008.8 173.8 L1009 169.2" fill="none" stroke="#0000ff" stroke-width="2.0" stroke-linejoin="round"/><path d="M596.8 208 L597.8 232.3 L598.9 255.3 L599.9 278.7 L600.9 303 L601.5 317.2 L603 322.3 L603.9 325.3 L605 324.5 L606.3 321.3 L607.1 321.8 L608.1 321.5 L608.8 322.1 L610.2 317.1 L611.2 312.4 L612.2 311.3 L613.3 310.6 L614.4 310.7 L615.3 313.4 L616.4 317.1 L616.9 318.8 L617.4 320.2 L618.4 324.1 L619.3 327.8 L620.5 324.2 L621.7 322.1 L622.5 319.7 L623.6 315.2 L624.2 313.2 L625.6 320.1 L626.6 322.1 L627.7 322 L629 325.3 L629.8 327.3 L630.8 327.6 L631.8 326.5 L633.1 327 L633.9 327.7 L634.9 327.8 L636.3 330.2 L637 329.2 L638 328.1 L639 326.9 L640.4 325.3 L641.1 325.5 L642.1 322.8 L643.6 318.8 L644.2 317.1 L645.2 314.8 L646 312.4 L647.3 313.4 L648.5 315.6 L649.3 316.2 L650.4 318.1 L650.9 321.3 L652.4 323.8 L653.4 326.4 L654.1 327.8 L655.5 326.1 L656.6 323.7 L657.6 321.4 L659 317.2 L659.6 318.7 L660.7 321.3 L661.4 323.7 L662.7 328 L663.9 328.6 L664.8 329.6 L665.8 329 L666.8 328.2 L667.9 327.8 L668.7 331.8 L669.9 330 L671 327.9 L672 326.1 L672.8 327 L674 325.4 L675.2 324.5 L676.1 324.4 L677.1 325.2 L678.2 325.4 L679.3 326.1 L680.2 323 L681.7 320.5 L682.3 318.3 L683.3 314.2 L684.3 310.8 L684.9 307.5 L686.4 301.6 L687.7 294.5 L688.5 294.6 L689.3 293.7 L690.5 297.7 L691.9 304.3 L692.6 304.8 L693.6 306.3 L694.2 308.3 L695.7 303.7 L696.8 302.6 L697.7 308.1 L698.7 314 L699.8 309.4 L700.7 307.5 L702 292.9 L702.9 308.7 L703.6 320.5 L705.2 326.1 L706 316.1 L707 302.6 L707.9 291.9 L709.1 262.5 L710.5 231.6 L711.1 218.4 L712.2 199.1 L713.1 179.3 L714.2 163.3 L714.9 151 L716.5 179.3 L717.3 217.4 L718.3 265.7 L719.6 302.3 L720.4 308.1 L721.4 312.9 L722.3 318.1 L723.5 313.7 L724.9 307.6 L725.5 306.4 L726.2 305 L727.6 310.6 L728.8 314.1 L729.7 315.8 L730.9 315.4 L731.7 318 L732.7 320.7 L733.8 316.8 L734.8 313.5 L735.3 310.2 L735.8 307.9 L736.9 301.7 L738 297.1 L738.9 293.3 L740 288.8 L740.6 286.6 L742 258.6 L743.2 234.3 L744.1 229.3 L745 223.8 L746.6 239.5 L747.2 255.6 L747.9 276.2 L749.2 283.9 L749.8 286.6 L750.3 300.4 L751.1 320.7 L752.3 314.9 L753.7 310.2 L754.4 300.6 L755.4 286 L756.3 273.5 L757.5 289.5 L758.9 307.6 L759.5 312.7 L760.6 320.2 L761.5 328.5 L762.6 309.7 L764.2 286.6 L764.7 273.7 L765.7 251.5 L766.7 229.6 L768.1 202.3 L768.8 215.8 L769.8 234.4 L770.7 250 L771.9 270.3 L772.9 289.6 L774 308.1 L774.6 318.1 L776 319.7 L777 321.5 L778.6 324.6 L779.1 324.7 L780.1 323.1 L781.1 321.2 L782.2 324 L783.1 326.4 L784.3 325.9 L785.7 325.1 L786.3 325.5 L787.3 324.8 L788.4 323.5 L789.6 325.1 L790.4 324.5 L791.5 322.3 L792.9 317.2 L793.5 316.8 L794.6 314.7 L795.5 314.6 L796.6 309.9 L798.1 302.8 L798.7 305.3 L799.5 313.3 L800.7 307.8 L802.1 304.2 L802.8 311.4 L804 323.8 L804.9 325.4 L806 325.1 L806.9 322.9 L807.9 319.9 L809.3 318.6 L810 317.3 L811 316.3 L812.6 312 L813.1 313.7 L814.1 318.6 L815.2 323.8 L816.2 323.6 L817.2 324.7 L818.4 327.7 L819.3 329.3 L820.3 329.8 L821.1 328.4 L822.4 327.7 L823.4 326.7 L824.3 325.1 L825.5 324.9 L827 323.8 L827.5 324.5 L828.5 325.4 L829.6 325.9 L830.2 326.4 L831.6 326.1 L832.8 323.8 L833.7 321 L834.7 316 L836.1 310.7 L836.8 309.7 L838.1 309.4 L838.8 308.8 L839.9 309.4 L840.7 310.7 L841.9 313.7 L843.3 318.6 L844 317.9 L845 318.1 L845.9 317.2 L847.1 314.8 L848.6 308.1 L849.1 307.7 L850.2 306.1 L851.2 302.8 L852.2 309.3 L853.3 312.5 L853.8 313.3 L854.3 316.1 L855.3 322.1 L856.4 327.7 L857.4 321.9 L858.4 315.6 L859.4 308.3 L860.3 304.2 L861.5 304.2 L863 308.1 L863.6 307.2 L864.6 306.9 L865.6 306.1 L866.9 306.8 L867.7 307.6 L868.7 308.2 L869.7 307.9 L870.8 308.7 L871.8 311.7 L872.8 313.2 L873.4 313.3 L874.9 311.8 L876 309.4 L877 310.3 L878 311.8 L878.7 314.6 L880 320 L881.1 323.7 L881.9 325.1 L883.1 319.3 L884.2 312.9 L885.2 305.5 L886.2 306.8 L887.3 308.9 L887.8 310.7 L889.3 294.8 L890.5 280.6 L891.4 283.8 L892.4 288.5 L893.1 292.4 L894.5 295.3 L895.7 297.6 L896.5 297.6 L897.6 297.8 L898.6 296.7 L899.6 295 L900.4 303 L902 274.2 L902.7 290 L903.8 316.8 L904.8 319.1 L905.8 320.2 L907.3 319.1 L907.9 319.4 L908.9 319.2 L909.9 319 L910.9 318.6 L911.9 316.8 L913 319 L914 320.4 L915.4 323.7 L916.1 321.2 L917.1 321.4 L918.2 321.3 L918.8 321.4 L920.2 279.3 L921.1 252.3 L922.3 228.8 L923.3 208.9 L924.1 192.3 L925.4 200.8 L926.4 208.7 L926.9 213 L927.4 225.2 L928.5 247.6 L929.2 263.8 L930.5 289.2 L931.5 307.6 L932.6 312.7 L933.6 314.9 L935 319.1 L935.7 320 L936.7 319.4 L937.7 318.8 L938.4 319.1 L939.8 313.4 L940.8 310.7 L941.9 307.6 L942.9 290.7 L943.9 273.3 L945.4 248.8 L946 255.4 L947 265 L948 274.7 L948.8 282.2 L950.1 270.3 L951.1 260.9 L952.3 252.3 L953.2 262.2 L954.2 274 L955.2 285.2 L956.3 296 L956.9 303 L958.3 311.3 L959.4 318.1 L960.3 323.7 L961.4 323.5 L962.4 321.4 L963.8 319.1 L964.5 315.7 L965.5 310.5 L966.6 305.8 L967.6 302.5 L968.4 299.5 L969.7 310.9 L970.7 319.1 L971.7 295.3 L973 266.1 L973.8 271.8 L974.8 280.5 L975.3 284.5 L975.8 285.8 L976.9 290.3 L977.9 295.7 L978.8 298.4 L980 299.5 L981 300.4 L982.3 300.7 L983 303.3 L984.1 308 L985.1 311.5 L986.1 315.3 L986.9 319.1 L988.2 313.4 L989.2 307.6 L990.3 307.4 L991.3 307.8 L992.6 309.9 L993.3 297.6 L994.4 283.6 L995.4 270.7 L996.4 256.7 L997.2 244.2 L998.5 263 L999.5 277.4 L1000.6 292.4 L1001.9 312.2 L1002.6 307.9 L1003.6 302.2 L1004.7 295.3 L1005.3 291.5 L1006.7 270.8 L1007.8 254.6 L1008.8 240.7 L1009 229.2" fill="none" stroke="#008000" stroke-width="2.0" stroke-linejoin="round"/><rect x="76.5" y="694.1" width="3.1" height="54.9" fill="#008000"/><rect x="79.6" y="694.1" width="2.6" height="54.9" fill="#ff0000"/><rect x="82.6" y="694.1" width="10.7" height="54.9" fill="#008000"/><rect x="103.1" y="694.1" width="1.6" height="54.9" fill="#ff0000"/><rect x="106.1" y="694.1" width="1.5" height="54.9" fill="#008000"/><rect x="112.2" y="694.1" width="4.1" height="54.9" fill="#ff0000"/><rect x="116.3" y="694.1" width="14" height="54.9" fill="#008000"/><rect x="132.7" y="694.1" width="2.5" height="54.9" fill="#0000ff"/><rect x="135.2" y="694.1" width="3.3" height="54.9" fill="#ff0000"/><rect x="138.5" y="694.1" width="3.3" height="54.9" fill="#0000ff"/><rect x="141.8" y="694.1" width="3.3" height="54.9" fill="#ff0000"/><rect x="147.5" y="694.1" width="1.6" height="54.9" fill="#ff0000"/><rect x="150" y="694.1" width="3.3" height="54.9" fill="#ff0000"/><rect x="153.3" y="694.1" width="1.6" height="54.9" fill="#008000"/><rect x="154.9" y="694.1" width="3.3" height="54.9" fill="#ff0000"/><rect x="158.2" y="694.1" width="1.6" height="54.9" fill="#008000"/><rect x="159.9" y="694.1" width="1.6" height="54.9" fill="#ff0000"/><rect x="161.5" y="694.1" width="9" height="54.9" fill="#008000"/><rect x="171.1" y="694.1" width="2" height="54.9" fill="#0000ff"/><rect x="173.9" y="694.1" width="2.1" height="54.9" fill="#ff0000"/><rect x="176" y="694.1" width="2.5" height="54.9" fill="#ff0000"/><rect x="178.5" y="694.1" width="3.3" height="54.9" fill="#008000"/><rect x="181.8" y="694.1" width="9" height="54.9" fill="#ff0000"/><rect x="191.6" y="694.1" width="1.6" height="54.9" fill="#ff0000"/><rect x="199" y="694.1" width="3.3" height="54.9" fill="#ff0000"/><rect x="208.9" y="694.1" width="1.6" height="54.9" fill="#ff0000"/><rect x="213" y="694.1" width="3.3" height="54.9" fill="#0000ff"/><rect x="216.3" y="694.1" width="6.6" height="54.9" fill="#ff0000"/><rect x="222.9" y="694.1" width="9.9" height="54.9" fill="#008000"/><rect x="234.4" y="694.1" width="7.4" height="54.9" fill="#ff0000"/><rect x="241.8" y="694.1" width="2" height="54.9" fill="#008000"/><rect x="244.3" y="694.1" width="3.3" height="54.9" fill="#ff0000"/><rect x="250" y="694.1" width="4.1" height="54.9" fill="#008000"/><rect x="255.8" y="694.1" width="1.2" height="54.9" fill="#008000"/><rect x="259.9" y="694.1" width="3.3" height="54.9" fill="#ff0000"/><rect x="266.5" y="694.1" width="1.6" height="54.9" fill="#008000"/><rect x="271.1" y="694.1" width="2" height="54.9" fill="#ff0000"/><rect x="273" y="694.1" width="3" height="54.9" fill="#0000ff"/><rect x="276" y="694.1" width="2" height="54.9" fill="#0000ff"/><rect x="278" y="694.1" width="1.6" height="54.9" fill="#ff0000"/><rect x="279.6" y="694.1" width="1.3" height="54.9" fill="#008000"/><rect x="283.4" y="694.1" width="21.4" height="54.9" fill="#008000"/><rect x="304.8" y="694.1" width="1.6" height="54.9" fill="#ff0000"/><rect x="306.4" y="694.1" width="15.6" height="54.9" fill="#008000"/><rect x="327" y="694.1" width="1.6" height="54.9" fill="#ff0000"/><rect x="333.6" y="694.1" width="2.5" height="54.9" fill="#ff0000"/><rect x="336" y="694.1" width="4.1" height="54.9" fill="#0000ff"/><rect x="340.1" y="694.1" width="4.9" height="54.9" fill="#ff0000"/><rect x="345.1" y="694.1" width="4.1" height="54.9" fill="#008000"/><rect x="349.2" y="694.1" width="1.6" height="54.9" fill="#ff0000"/><rect x="350.8" y="694.1" width="1.6" height="54.9" fill="#008000"/><rect x="352.5" y="694.1" width="4.1" height="54.9" fill="#0000ff"/><rect x="359.9" y="694.1" width="1.6" height="54.9" fill="#ff0000"/><rect x="364" y="694.1" width="1.6" height="54.9" fill="#008000"/><rect x="369.8" y="694.1" width="1.6" height="54.9" fill="#008000"/><rect x="376" y="694.1" width="0.8" height="54.9" fill="#008000"/><rect x="383.4" y="694.1" width="0.8" height="54.9" fill="#0000ff"/><rect x="384.2" y="694.1" width="1.6" height="54.9" fill="#008000"/><rect x="385.9" y="694.1" width="10.7" height="54.9" fill="#0000ff"/><rect x="396.6" y="694.1" width="1.6" height="54.9" fill="#ff0000"/><rect x="398.2" y="694.1" width="12.3" height="54.9" fill="#0000ff"/><rect x="410.5" y="694.1" width="3.3" height="54.9" fill="#008000"/><rect x="413.8" y="694.1" width="2.5" height="54.9" fill="#0000ff"/><rect x="416.3" y="694.1" width="2.5" height="54.9" fill="#008000"/><rect x="418.8" y="694.1" width="2.5" height="54.9" fill="#0000ff"/><rect x="421.2" y="694.1" width="14.8" height="54.9" fill="#008000"/><rect x="436" y="694.1" width="6.6" height="54.9" fill="#0000ff"/><rect x="442.6" y="694.1" width="18.1" height="54.9" fill="#008000"/><rect x="460.7" y="694.1" width="1.6" height="54.9" fill="#0000ff"/><rect x="462.3" y="694.1" width="4.9" height="54.9" fill="#008000"/><rect x="467.3" y="694.1" width="5.8" height="54.9" fill="#0000ff"/><rect x="473" y="694.1" width="1.6" height="54.9" fill="#7a3aa8"/><rect x="474.7" y="694.1" width="4.9" height="54.9" fill="#008000"/><rect x="480.4" y="694.1" width="0.8" height="54.9" fill="#ff0000"/><rect x="481.3" y="694.1" width="4.1" height="54.9" fill="#0000ff"/><rect x="76.5" y="639.2" width="2" height="54.9" fill="#008000"/><rect x="78.5" y="639.2" width="3.3" height="54.9" fill="#ff0000"/><rect x="82.6" y="639.2" width="5.8" height="54.9" fill="#008000"/><rect x="88.3" y="639.2" width="1.6" height="54.9" fill="#ff0000"/><rect x="90" y="639.2" width="3.3" height="54.9" fill="#008000"/><rect x="106.1" y="639.2" width="1.5" height="54.9" fill="#008000"/><rect x="113.8" y="639.2" width="2.5" height="54.9" fill="#ff0000"/><rect x="116.3" y="639.2" width="14" height="54.9" fill="#008000"/><rect x="132.7" y="639.2" width="11.5" height="54.9" fill="#ff0000"/><rect x="148.4" y="639.2" width="1.6" height="54.9" fill="#008000"/><rect x="151.7" y="639.2" width="1.6" height="54.9" fill="#ff0000"/><rect x="155.8" y="639.2" width="1.6" height="54.9" fill="#ff0000"/><rect x="159.1" y="639.2" width="3.3" height="54.9" fill="#ff0000"/><rect x="165.6" y="639.2" width="4.9" height="54.9" fill="#008000"/><rect x="174.7" y="639.2" width="1.3" height="54.9" fill="#ff0000"/><rect x="176" y="639.2" width="0.8" height="54.9" fill="#ff0000"/><rect x="181.8" y="639.2" width="1.6" height="54.9" fill="#ff0000"/><rect x="185.9" y="639.2" width="2" height="54.9" fill="#ff0000"/><rect x="189.2" y="639.2" width="8.2" height="54.9" fill="#ff0000"/><rect x="198.7" y="639.2" width="3.6" height="54.9" fill="#ff0000"/><rect x="208.9" y="639.2" width="1.6" height="54.9" fill="#ff0000"/><rect x="217.1" y="639.2" width="5.3" height="54.9" fill="#ff0000"/><rect x="222.9" y="639.2" width="1.6" height="54.9" fill="#008000"/><rect x="229.1" y="639.2" width="1.5" height="54.9" fill="#008000"/><rect x="236.5" y="639.2" width="2" height="54.9" fill="#ff0000"/><rect x="242.1" y="639.2" width="1.6" height="54.9" fill="#008000"/><rect x="250" y="639.2" width="4.1" height="54.9" fill="#008000"/><rect x="271.4" y="639.2" width="1.6" height="54.9" fill="#ff0000"/><rect x="273.9" y="639.2" width="2.1" height="54.9" fill="#ff0000"/><rect x="284.2" y="639.2" width="20.6" height="54.9" fill="#008000"/><rect x="304.8" y="639.2" width="2.5" height="54.9" fill="#ff0000"/><rect x="307.2" y="639.2" width="3.3" height="54.9" fill="#008000"/><rect x="310.5" y="639.2" width="1.6" height="54.9" fill="#ff0000"/><rect x="312.2" y="639.2" width="3.3" height="54.9" fill="#008000"/><rect x="319.1" y="639.2" width="1.6" height="54.9" fill="#ff0000"/><rect x="327" y="639.2" width="1.6" height="54.9" fill="#ff0000"/><rect x="334.4" y="639.2" width="2.5" height="54.9" fill="#ff0000"/><rect x="341" y="639.2" width="4.1" height="54.9" fill="#ff0000"/><rect x="345.1" y="639.2" width="1.3" height="54.9" fill="#008000"/><rect x="346.4" y="639.2" width="2.8" height="54.9" fill="#ff0000"/><rect x="350" y="639.2" width="1.6" height="54.9" fill="#008000"/><rect x="356.6" y="639.2" width="3.3" height="54.9" fill="#ff0000"/><rect x="364" y="639.2" width="1.6" height="54.9" fill="#008000"/><rect x="374.4" y="639.2" width="1.6" height="54.9" fill="#008000"/><rect x="383.4" y="639.2" width="1.6" height="54.9" fill="#0000ff"/><rect x="390" y="639.2" width="1.6" height="54.9" fill="#0000ff"/><rect x="398.2" y="639.2" width="6.6" height="54.9" fill="#ff0000"/><rect x="399" y="639.2" width="1" height="54.9" fill="#0000ff"/><rect x="409.7" y="639.2" width="1.6" height="54.9" fill="#0000ff"/><rect x="411.4" y="639.2" width="1.6" height="54.9" fill="#008000"/><rect x="416.3" y="639.2" width="19.7" height="54.9" fill="#008000"/><rect x="441" y="639.2" width="1.6" height="54.9" fill="#0000ff"/><rect x="445.1" y="639.2" width="3.3" height="54.9" fill="#008000"/><rect x="450.8" y="639.2" width="1.6" height="54.9" fill="#008000"/><rect x="452.5" y="639.2" width="1.6" height="54.9" fill="#0000ff"/><rect x="454.9" y="639.2" width="12.3" height="54.9" fill="#008000"/><rect x="467.3" y="639.2" width="1.2" height="54.9" fill="#ff0000"/><rect x="468.4" y="639.2" width="4.6" height="54.9" fill="#7a3aa8"/><rect x="475.5" y="639.2" width="1.6" height="54.9" fill="#008000"/><rect x="482.1" y="639.2" width="3.3" height="54.9" fill="#0000ff"/><rect x="86.3" y="584.2" width="1.2" height="54.9" fill="#ff0000"/><rect x="91" y="584.2" width="2" height="54.9" fill="#008000"/><rect x="118.4" y="584.2" width="1.2" height="54.9" fill="#008000"/><rect x="121.7" y="584.2" width="1.5" height="54.9" fill="#008000"/><rect x="127" y="584.2" width="1.2" height="54.9" fill="#ff0000"/><rect x="133.3" y="584.2" width="5.7" height="54.9" fill="#ff0000"/><rect x="139.9" y="584.2" width="1.2" height="54.9" fill="#ff0000"/><rect x="218.9" y="584.2" width="1.3" height="54.9" fill="#ff0000"/><rect x="229.2" y="584.2" width="1.3" height="54.9" fill="#008000"/><rect x="242.2" y="584.2" width="1.3" height="54.9" fill="#008000"/><rect x="252.1" y="584.2" width="1.5" height="54.9" fill="#008000"/><rect x="286.8" y="584.2" width="2.4" height="54.9" fill="#008000"/><rect x="293.2" y="584.2" width="1.3" height="54.9" fill="#008000"/><rect x="295.5" y="584.2" width="9" height="54.9" fill="#008000"/><rect x="350.4" y="584.2" width="1.3" height="54.9" fill="#008000"/><rect x="383.7" y="584.2" width="1.2" height="54.9" fill="#0000ff"/><rect x="398.9" y="584.2" width="1.3" height="54.9" fill="#0000ff"/><rect x="416.1" y="584.2" width="9.5" height="54.9" fill="#008000"/><rect x="428" y="584.2" width="7.8" height="54.9" fill="#008000"/><rect x="449.3" y="584.2" width="3.1" height="54.9" fill="#008000"/><rect x="455.2" y="584.2" width="9.5" height="54.9" fill="#008000"/><rect x="464.7" y="584.2" width="7.1" height="54.9" fill="#ff0000"/><rect x="476.6" y="584.2" width="1.3" height="54.9" fill="#008000"/><rect x="483.7" y="584.2" width="1.6" height="54.9" fill="#0000ff"/><rect x="91" y="529.3" width="1.5" height="54.9" fill="#008000"/><rect x="121.7" y="529.3" width="1.5" height="54.9" fill="#008000"/><rect x="135.4" y="529.3" width="1.5" height="54.9" fill="#ff0000"/><rect x="287.2" y="529.3" width="1.5" height="54.9" fill="#008000"/><rect x="296.5" y="529.3" width="5.5" height="54.9" fill="#008000"/><rect x="383.7" y="529.3" width="1.2" height="54.9" fill="#0000ff"/><rect x="416.9" y="529.3" width="5.6" height="54.9" fill="#008000"/><rect x="429.2" y="529.3" width="1.3" height="54.9" fill="#008000"/><rect x="451.1" y="529.3" width="1.3" height="54.9" fill="#008000"/><rect x="463" y="529.3" width="1.3" height="54.9" fill="#008000"/><rect x="295.9" y="474.4" width="1.5" height="54.9" fill="#008000"/><rect x="416.1" y="474.4" width="1.7" height="54.9" fill="#008000"/><rect x="419.7" y="474.4" width="2.2" height="54.9" fill="#008000"/><path d="M599.5 681.1V701.8M600.5 679.3V710.9M601.5 683.6V709.6M602.5 678.7V696.2M603.5 675V701.4M604.5 675.6V703.1M605.5 681.9V703.1M606.5 674V700.5M607.5 674.5V697.8M608.5 674.6V695.1M609.5 677.4V697.4M610.5 671.1V693.6M611.5 667.4V694.7M612.5 668.6V689M613.5 668.6V693.1M614.5 674.1V691.3M615.5 666.4V696M616.5 665.7V692.5M617.5 669.1V691.9M618.5 665.8V690.3M619.5 666.4V687.5M620.5 666.1V685.2M621.5 666.3V689.8M622.5 665.8V689.3M623.5 667.5V689.7M624.5 664.1V688.1M625.5 666.8V692.1M626.5 661.9V684.7M627.5 661.6V686.6M628.5 663.8V687.6M629.5 666.4V686.2M630.5 667.6V692.5M631.5 665.7V691.2M632.5 662.1V685.9M633.5 664V689.1M634.5 666.9V691M635.5 664.4V690M636.5 660V684.1M637.5 662.9V681.9M638.5 657.1V690M639.5 663.6V686.9M640.5 661.7V689M641.5 666.6V688.8M642.5 665.3V687.7M643.5 664V688.8M644.5 665.8V688.8M645.5 664.3V685.9M646.5 655.5V686.2M647.5 659.1V680.8M648.5 660V682.1M649.5 655.3V679.1M650.5 660V681.8M651.5 660.2V685.8M652.5 661V687.1M653.5 664.9V693.4M654.5 658.5V683.7M655.5 662.8V686.8M656.5 659.4V691.1M657.5 669V697.4M658.5 663.7V693.4M659.5 670.1V692.4M660.5 667.2V695.4M661.5 660.5V686.8M662.5 657.3V681.4M663.5 665V685.1M664.5 655.4V691.2M665.5 667.5V690.5M666.5 661.3V688.7M667.5 671.4V698.1M668.5 674.5V698.7M669.5 668.2V691.3M670.5 668.4V691.4M671.5 666.8V699.1M672.5 674.9V701.1M673.5 683.1V714.3M674.5 684.9V707.3M675.5 682.9V709.2M676.5 679.1V703.9M677.5 684.8V706.3M678.5 683.2V705.1M679.5 684.2V705.3M680.5 678.6V704.9M681.5 679.4V706.3M682.5 694.9V716.9M683.5 691.6V715.6M684.5 691.6V718.9M685.5 693.2V717.6M686.5 698.3V723.4M687.5 691.2V722.5M688.5 698.8V719.8M689.5 692.9V720.7M690.5 693V716.3M691.5 694.7V714.6M692.5 691.2V714M693.5 692V717.6M694.5 697.7V715.3M695.5 691.3V716.8M696.5 695.2V718.5M697.5 697.3V722.5M698.5 693.8V719.6M699.5 693.2V717M700.5 691.1V714.9M701.5 692.1V713M702.5 690.2V718.1M703.5 690V709.8M704.5 691V712.7M705.5 693.8V716M706.5 685.7V717.6M707.5 694.4V714.5M708.5 686.5V712.6M709.5 692.4V708.5M710.5 687.2V712M711.5 691.4V717M712.5 692.3V716.3M713.5 690.7V723.1M714.5 691.2V712.6M715.5 698.8V717.7M716.5 693.5V719.3M717.5 686.8V713M718.5 691.4V718.8M719.5 691.4V724.2M720.5 693.6V716.2M721.5 692.8V718.8M722.5 692.8V718.3M723.5 696.8V718.5M724.5 695.4V717.3M725.5 696.7V718.8M726.5 691.4V720.2M727.5 693.9V727.1M728.5 700.9V721.5M729.5 699V724.1M730.5 699.1V722.1M731.5 696.2V724.2M732.5 695V723.3M733.5 697.6V720.8M734.5 696.1V722.2M735.5 701.8V721.8M736.5 694.6V722.1M737.5 693.8V719.6M738.5 698.1V723.1M739.5 694.5V721.4M740.5 695.9V723.2M741.5 698.7V720.5M742.5 700.4V721.8M743.5 698.6V721.1M744.5 700.5V723.8M745.5 691.8V720.2M746.5 691.8V714.5M747.5 697.6V721.1M748.5 700.3V720.3M749.5 697.7V724.4M750.5 692.4V721.1M751.5 687V713.7M752.5 684.1V708.3M753.5 690.9V714M754.5 691V718.8M755.5 689.8V716.6M756.5 694.5V716.9M757.5 687.8V717.1M758.5 692.3V721.4M759.5 693.7V718.8M760.5 699.4V724M761.5 696.8V722.6M762.5 695.9V718.3M763.5 695.2V721.1M764.5 700.3V720.8M765.5 699V719.4M766.5 695.1V718M767.5 691.6V719M768.5 696.4V718.3M769.5 696V721.5M770.5 691.3V716.9M771.5 692.4V719.2M772.5 697.6V720.8M773.5 702.6V726.3M774.5 700.7V724.5M775.5 698.6V720.5M776.5 698.7V721.4M777.5 697.2V721M778.5 691.5V725.3M779.5 699.3V723.5M780.5 701.1V722.9M781.5 695.4V715.4M782.5 697.3V718.4M783.5 700.7V721.9M784.5 703.7V725.6M785.5 695V720.4M786.5 704.2V725.2M787.5 697.9V727.9M788.5 702.1V722.6M789.5 695.7V723.4M790.5 700.1V724.8M791.5 703.8V726M792.5 700.4V722.5M793.5 696.5V720.6M794.5 695.4V724.3M795.5 699.8V722.5M796.5 698.4V724.4M797.5 705.1V727.1M798.5 702.7V731M799.5 691.8V722.9M800.5 693.3V715.8M801.5 695.1V721.7M802.5 696.5V719.6M803.5 697.9V720.4M804.5 697.1V720.2M805.5 700.5V722M806.5 699.5V724.1M807.5 696.9V720.1M808.5 696.9V721.4M809.5 695.5V717.7M810.5 694.3V717.3M811.5 693V716.5M812.5 694.8V718.7M813.5 699.4V721.2M814.5 692.4V715.7M815.5 695.4V720.4M816.5 693.8V722.9M817.5 697.6V722.5M818.5 700.8V722.5M819.5 694.7V720.1M820.5 695.3V717.9M821.5 690.3V716.8M822.5 689.5V715.3M823.5 694V718.1M824.5 696.3V720.1M825.5 696.6V720M826.5 696.7V723M827.5 705.1V727.5M828.5 700.9V729.8M829.5 696V720.5M830.5 694.2V719.2M831.5 691.2V724.5M832.5 702.6V730.2M833.5 702.9V728.6M834.5 694.3V724.1M835.5 694.1V721M836.5 699.7V724.4M837.5 703.3V725M838.5 695.1V723.7M839.5 694.4V721.8M840.5 700.4V718.5M841.5 698V721.2M842.5 702.6V723M843.5 698.1V724.9M844.5 698.5V721.4M845.5 704.7V728.6M846.5 704.3V727.1M847.5 703.6V729M848.5 702.6V721.8M849.5 698.8V721.7M850.5 703V728.4M851.5 704.8V730.1M852.5 707.9V729.7M853.5 702.8V723.9M854.5 701.8V729.1M855.5 707.3V729.5M856.5 709.4V735M857.5 709.4V732.5M858.5 709V730.7M859.5 708.8V726.8M860.5 709.8V734.8M861.5 707.2V735.1M862.5 707.2V733M863.5 706.6V730.5M864.5 707.4V728.3M865.5 712.6V731.2M866.5 705.5V729.9M867.5 706.1V729.4M868.5 701.9V728.1M869.5 703.2V723.8M870.5 700.8V726.9M871.5 698.7V724.6M872.5 703.2V725.8M873.5 704V729.5M874.5 695.4V719.6M875.5 698V723.5M876.5 702.6V726.5M877.5 703.1V721.5M878.5 699.4V721.5M879.5 700.7V725.5M880.5 699.9V723.4M881.5 690.6V718.1M882.5 688V711.1M883.5 696.2V717.9M884.5 689.1V716.3M885.5 696.9V718.5M886.5 700.2V720.4M887.5 702.8V725.8M888.5 704.1V726.5M889.5 704.6V726.6M890.5 698.4V727.9M891.5 702.2V725.5M892.5 699.1V720.8M893.5 699.8V723.2M894.5 697V720.2M895.5 686.1V717.4M896.5 691.1V719M897.5 694.5V719.8M898.5 694.9V713.7M899.5 692.6V720.2M900.5 700V721.6M901.5 693.6V726.4M902.5 691.5V713.7M903.5 690.8V718.3M904.5 689.8V710.3M905.5 689.9V717.4M906.5 697V724M907.5 696V720.5M908.5 693.5V721.9M909.5 697.9V723.9M910.5 690.6V716.6M911.5 689V713.5M912.5 694.6V716.3M913.5 693.9V720.7M914.5 693.6V716.6M915.5 689.1V716.5M916.5 691.3V719M917.5 693.2V716.3M918.5 691.4V714.8M919.5 682V713.1M920.5 691.7V717.3M921.5 693.6V716.2M922.5 693.2V716M923.5 688.5V710.5M924.5 686.3V709.2M925.5 680.7V707.8M926.5 687.5V711.6M927.5 684.3V712.4M928.5 694V714.2M929.5 693.8V711.1M930.5 691.3V717.5M931.5 698.3V716.1M932.5 697.9V723.6M933.5 696.8V727.1M934.5 693.3V720.6M935.5 692.6V717.1M936.5 696V720.4M937.5 695.4V721.6M938.5 697.2V719.4M939.5 698V721.5M940.5 695V716M941.5 700.9V720.2M942.5 694.6V719.7M943.5 695.2V717.5M944.5 699V723.2M945.5 702.4V724.1M946.5 700.6V721.9M947.5 696V728.7M948.5 696.2V714.1M949.5 697.1V718M950.5 692.4V716.8M951.5 690.7V716.2M952.5 692.5V715.2M953.5 689.2V710.5M954.5 688.3V714.3M955.5 689.6V714.6M956.5 688.1V710.4M957.5 691V717.2M958.5 689V715.6M959.5 688.9V713.4M960.5 691.9V710.9M961.5 685.2V712.1M962.5 683.6V709.8M963.5 688.5V716.7M964.5 698V719.9M965.5 692V722.2M966.5 697.6V716M967.5 694.3V716.9M968.5 694.2V714.7M969.5 692V713.8M970.5 696.6V716.1M971.5 693.9V721.7M972.5 687.8V712.5M973.5 687.4V713M974.5 687.2V713M975.5 689.2V709.7M976.5 691.4V713.1M977.5 689.9V714.7M978.5 692.7V715.9M979.5 692V718.6M980.5 686.5V713.8M981.5 681.9V704.1M982.5 682.4V706.8M983.5 685.9V707.4M984.5 686.3V711.1M985.5 691.9V720.2M986.5 687V713M987.5 697.2V719.7M988.5 693.4V717.6M989.5 690.1V717.3M990.5 689.6V717.3M991.5 691.8V715.3M992.5 693.1V717.2M993.5 691V713.3M994.5 686.2V713.1M995.5 688.8V705.8M996.5 681.6V706.3M997.5 687.1V708.6M998.5 688.8V714.2M999.5 690.2V713.4M1000.5 691.2V714.8M1001.5 693.5V721.3M1002.5 696.6V718.1M1003.5 691.3V722.3M1004.5 687.6V713.5M1005.5 687.6V714.3M1006.5 682V711.6M1007.5 689.1V715.1M1008.5 695.1V719.3M1009.5 690.9V717.9M1010.5 688V713.7M1011.5 686.7V711.9M1012.5 685.9V710.2" stroke="#ff0000" stroke-width="1.0" fill="none"/><path d="M599.5 673.4V698.7M600.5 676.5V697.3M601.5 673.2V693.8M602.5 672V698.1M603.5 673.4V697.1M604.5 680.8V703.2M605.5 672.2V703.8M606.5 668V696.2M607.5 672.3V698.9M608.5 671.8V695.3M609.5 669.8V693.2M610.5 665V701M611.5 671.7V695.8M612.5 674.1V698.9M613.5 676.1V705.1M614.5 677.9V700M615.5 675.6V705.8M616.5 672.9V701.2M617.5 671.6V696.5M618.5 670.9V693.3M619.5 671.6V690M620.5 669.8V694.8M621.5 671.7V691.3M622.5 665.4V694.8M623.5 665.2V697.5M624.5 671.7V693.5M625.5 667.5V691.9M626.5 667.1V688.2M627.5 667.3V690.8M628.5 670.6V694.3M629.5 671.7V696.1M630.5 669.2V692.5M631.5 670V691.2M632.5 665.1V687.1M633.5 665.4V688.7M634.5 667.7V688.9M635.5 663.6V687.8M636.5 668.6V690.5M637.5 672.6V693.1M638.5 669.4V692.5M639.5 662.6V684.7M640.5 662.1V685.1M641.5 667.7V691M642.5 668.8V694.9M643.5 665.5V695.8M644.5 671.5V692.5M645.5 676.3V695.7M646.5 671.3V699.6M647.5 673.7V696.3M648.5 675V692.4M649.5 669.6V697.9M650.5 666V687.9M651.5 665.9V687.8M652.5 665V688M653.5 665.2V692.4M654.5 662.7V696.4M655.5 665.1V687.8M656.5 661.3V686.2M657.5 662.4V686M658.5 657.3V685.3M659.5 655.6V683.2M660.5 660.6V682M661.5 662.6V693.4M662.5 669V693.4M663.5 671.9V698.9M664.5 668.1V697.1M665.5 675V700.7M666.5 668.6V692.5M667.5 668.6V691.3M668.5 663.5V690.8M669.5 669.2V692.2M670.5 664V694.6M671.5 670.7V691.6M672.5 672.7V698.6M673.5 672.1V695.8M674.5 662.6V688.7M675.5 666.1V691.2M676.5 667.5V696.2M677.5 666.9V694.5M678.5 668.7V690.5M679.5 666.8V696.5M680.5 677.6V696.5M681.5 666.4V696.2M682.5 666.1V691.4M683.5 667V689.7M684.5 669V691M685.5 664V691.4M686.5 661.9V689.8M687.5 671.7V695.7M688.5 668.1V691.3M689.5 669.2V693.7M690.5 665.4V687.1M691.5 672.3V696.2M692.5 666.9V693.9M693.5 664.5V690.7M694.5 664.5V691.4M695.5 670.3V700.3M696.5 671.3V692.9M697.5 666.5V696.6M698.5 675.2V692.3M699.5 675.8V697.8M700.5 674.5V693.5M701.5 673V696.7M702.5 669.3V700.8M703.5 675.5V695.7M704.5 669V690.4M705.5 668.9V694.4M706.5 672.9V692.6M707.5 671.5V693.4M708.5 667.5V696.1M709.5 671.7V695.3M710.5 669.6V699M711.5 676.6V698.1M712.5 673.9V704M713.5 681.3V697.3M714.5 676.8V697.8M715.5 675.5V698.4M716.5 671V703.5M717.5 676.4V696.7M718.5 674.8V700.1M719.5 666.6V692.4M720.5 663.5V689.9M721.5 670.2V702.3M722.5 674.4V698.4M723.5 672.8V697.3M724.5 667.8V696.4M725.5 674.2V697.8M726.5 674.8V701.5M727.5 677.2V703M728.5 680.1V703.1M729.5 678.4V700.9M730.5 679.5V702.3M731.5 672.6V699.2M732.5 674.8V698.2M733.5 675.5V700.5M734.5 675V700.2M735.5 670.7V699.5M736.5 674.4V692.8M737.5 672.2V694.9M738.5 675.8V703.8M739.5 665.8V697.6M740.5 674.2V698.8M741.5 675.8V703.9M742.5 679.1V710.5M743.5 690.3V713.5M744.5 687.1V711M745.5 685V707.7M746.5 671.7V700.3M747.5 680V706.4M748.5 679V701.5M749.5 673.4V704.4M750.5 680.8V698.7M751.5 675.2V702.3M752.5 675.1V706.1M753.5 680.9V703.4M754.5 681.6V707.1M755.5 679.9V707M756.5 677.7V701.1M757.5 680.6V703.8M758.5 677.7V702.2M759.5 683.3V705.7M760.5 686.3V707.5M761.5 680.2V705.5M762.5 679.2V702.8M763.5 679.4V705.3M764.5 673V696.7M765.5 672.7V694.8M766.5 675.6V697.8M767.5 676.5V697.9M768.5 672.3V695.5M769.5 672.2V705.2M770.5 675.1V707.3M771.5 673.7V700.9M772.5 675.7V701.2M773.5 676.1V699.5M774.5 678.9V703.7M775.5 678.2V701.2M776.5 682.1V703.6M777.5 675.9V698.7M778.5 687V707.6M779.5 683.1V705.5M780.5 685.1V712.6M781.5 690.7V715.1M782.5 686.4V708.7M783.5 678.1V700.8M784.5 678.9V703.8M785.5 679V704M786.5 680.8V706.6M787.5 675.1V702.5M788.5 681.7V704.4M789.5 687.7V707.3M790.5 681.8V708.8M791.5 687.8V709.6M792.5 686V709.8M793.5 688.6V710.5M794.5 681.5V703.6M795.5 684V707.8M796.5 683.7V709.9M797.5 677.7V707.9M798.5 680.6V703.8M799.5 674.9V706.4M800.5 677.5V703.7M801.5 681.7V703.1M802.5 683.5V707M803.5 686.1V708.1M804.5 681.7V701.1M805.5 677.4V708.6M806.5 684.6V705.4M807.5 678.5V700.1M808.5 678.2V702.7M809.5 681.8V702.7M810.5 678.3V704.1M811.5 674V700.5M812.5 675.4V701.7M813.5 674.7V698M814.5 676.4V699.2M815.5 676.8V700.1M816.5 681.7V704.7M817.5 682.1V710.6M818.5 687.9V708.8M819.5 686.8V709.2M820.5 687.6V709.5M821.5 682.4V713.3M822.5 683.5V707.8M823.5 680.2V703.7M824.5 688.2V717.9M825.5 686.4V708.6M826.5 687.1V712M827.5 694.6V716M828.5 693V717.5M829.5 686.4V712.2M830.5 687.1V708.9M831.5 680.6V706.3M832.5 686.9V707.2M833.5 683.5V710.1M834.5 678.6V703.6M835.5 682.3V710.2M836.5 681.8V709.5M837.5 683.7V709.5M838.5 683.1V708.3M839.5 685.8V712.5M840.5 684.8V711.7M841.5 683.5V706.7M842.5 684.7V713.9M843.5 687.8V711.8M844.5 683.1V706.2M845.5 685.2V704.8M846.5 689.3V714.4M847.5 691.8V714.1M848.5 683V710.7M849.5 683.2V706.5M850.5 686.9V709M851.5 690.8V716.4M852.5 693.5V718.1M853.5 695.5V713.6M854.5 697V720.1M855.5 692.4V716.7M856.5 690.2V714.5M857.5 692.4V725.8M858.5 687.9V714.1M859.5 685.5V713.1M860.5 689.5V714.4M861.5 685.3V711.4M862.5 684.3V711.6M863.5 689.6V710.6M864.5 686.5V710.6M865.5 685.4V710.1M866.5 688.3V712.7M867.5 688.7V714.9M868.5 689.8V713M869.5 693.4V712.5M870.5 693.2V716.5M871.5 690.4V717.4M872.5 689.5V713.6M873.5 685.8V713.6M874.5 692.2V711.6M875.5 688.7V714M876.5 688.1V708.7M877.5 684.9V707.6M878.5 677.7V706.7M879.5 682.9V705.2M880.5 684.4V705.1M881.5 682.6V705.3M882.5 680.6V702.6M883.5 678V702.3M884.5 680.3V706M885.5 682.7V705.4M886.5 683.4V707.2M887.5 686.3V708M888.5 684.2V706.1M889.5 686.2V708.4M890.5 691.4V719.2M891.5 685.9V706.7M892.5 681.4V710.4M893.5 686.4V709.4M894.5 678.5V706.1M895.5 678.1V700.5M896.5 676.6V700.9M897.5 678.4V704.9M898.5 678.7V699.8M899.5 678.8V702.1M900.5 678.1V700.5M901.5 678.1V710.3M902.5 681.2V706.3M903.5 677.7V700.6M904.5 678.6V701.5M905.5 682.5V706.1M906.5 684.4V701.5M907.5 677.5V701.7M908.5 677.8V705.4M909.5 676.4V703.4M910.5 676.4V707.8M911.5 672.6V701.9M912.5 674.6V703.1M913.5 678.8V700.8M914.5 676.2V699.5M915.5 675.6V702.5M916.5 675.8V703.3M917.5 675.8V700.1M918.5 678.1V696.9M919.5 674.9V697.8M920.5 672.4V699.7M921.5 672.4V697.1M922.5 674.4V703.7M923.5 677.8V699.5M924.5 679.7V705.8M925.5 681.1V707.6M926.5 685V711.2M927.5 686.8V710.9M928.5 680.3V705.6M929.5 678.7V701.6M930.5 681.3V703.8M931.5 682.9V706.5M932.5 688.4V706.5M933.5 684.5V706.5M934.5 683.2V705M935.5 679.2V705.4M936.5 684.1V705.4M937.5 690.8V712.1M938.5 691.6V717.7M939.5 680.4V705.3M940.5 682.3V705.5M941.5 681.3V708.1M942.5 672.9V703.8M943.5 684.1V708.9M944.5 685.8V707.4M945.5 686.9V709.8M946.5 693.8V711.7M947.5 683.6V710.1M948.5 680.4V710.4M949.5 682.4V702.1M950.5 681.9V700.5M951.5 679.6V705.1M952.5 671.8V699.1M953.5 671.3V692.8M954.5 672.1V695.5M955.5 674.8V700.1M956.5 673.6V697.5M957.5 676.2V699.9M958.5 674.5V697.6M959.5 679.4V703.2M960.5 676.7V705M961.5 677.9V703.6M962.5 683.5V708.9M963.5 689.8V707.7M964.5 686V710M965.5 686.6V707M966.5 685.1V713M967.5 684.2V710.5M968.5 680.4V704.9M969.5 681V704.8M970.5 685.1V704.2M971.5 681.1V706.7M972.5 675.6V702.8M973.5 676.4V701.1M974.5 677.3V702.3M975.5 675.1V699.5M976.5 672.2V699M977.5 681.5V707.1M978.5 682.9V707.1M979.5 679.7V704.7M980.5 685.7V705.9M981.5 679.8V699.3M982.5 680V703.2M983.5 680.1V700.5M984.5 682V703.9M985.5 679.7V703.9M986.5 675.7V700.8M987.5 684.7V709.4M988.5 686.3V709.4M989.5 680.3V698.3M990.5 674.4V701.5M991.5 680.2V703.8M992.5 681.5V708M993.5 675.9V705.8M994.5 682.2V703.9M995.5 681.6V706.7M996.5 677.7V704.1M997.5 679V698.7M998.5 676.6V703.8M999.5 682.8V714M1000.5 683.2V707.6M1001.5 686.6V709.1M1002.5 686.4V708.6M1003.5 682.4V708.9M1004.5 680.2V706.8M1005.5 685.3V718.5M1006.5 683.7V708.8M1007.5 677.1V707.9M1008.5 687.1V708.3M1009.5 679.5V707.6M1010.5 684.6V703.5M1011.5 685.5V710.7M1012.5 688.7V706.3" stroke="#0000ff" stroke-width="1.0" fill="none"/><path d="M599.5 677.3V705.8M600.5 669.7V706.9M601.5 674.2V707.8M602.5 675.9V698.5M603.5 672.2V708.7M604.5 682.5V713.2M605.5 677V704.5M606.5 674.7V705M607.5 675.5V704.8M608.5 667.1V699.5M609.5 668.3V702.2M610.5 663V704.4M611.5 676.8V703.8M612.5 656V695.8M613.5 670.7V707.4M614.5 677.7V703.1M615.5 675.5V707.3M616.5 673.1V701.2M617.5 678.7V707.7M618.5 684.6V714.5M619.5 676V706.9M620.5 680.4V708.7M621.5 677.9V707.5M622.5 681.1V709.8M623.5 680.9V711M624.5 687.6V712.8M625.5 683V708.2M626.5 676.4V710.1M627.5 679.1V707.3M628.5 675.8V706.9M629.5 682.6V712.5M630.5 678.9V705.9M631.5 681.7V712.7M632.5 681.6V714.5M633.5 683.1V709.9M634.5 680.5V710.7M635.5 678.3V707.4M636.5 678.8V708.5M637.5 683.3V711.2M638.5 681.3V703.7M639.5 680.1V710M640.5 679.8V707.3M641.5 671.8V703.4M642.5 676.3V702.3M643.5 676.4V702.5M644.5 680.2V706.6M645.5 666.3V703.9M646.5 681.5V710M647.5 674.2V705M648.5 680.7V706.5M649.5 679.6V711.3M650.5 684V709M651.5 686.2V711.5M652.5 672.3V700M653.5 670.3V702.7M654.5 673.3V703.2M655.5 678.6V705.6M656.5 675.5V703.5M657.5 669.4V699.8M658.5 672.7V695.2M659.5 671.9V698.9M660.5 674.4V707.9M661.5 679.8V704.6M662.5 671.5V706.4M663.5 667.1V694.1M664.5 668.8V695.3M665.5 661.2V699.6M666.5 668V705.9M667.5 673.6V697.5M668.5 672V703.7M669.5 678.5V707.1M670.5 680V707.2M671.5 681.3V707M672.5 678.1V709.9M673.5 684.3V715M674.5 682.3V709.8M675.5 681.1V716.7M676.5 675.6V707.3M677.5 669.9V702M678.5 671.4V702.1M679.5 677.1V699.7M680.5 674.1V702.5M681.5 671.6V697.9M682.5 669.9V698.6M683.5 667.6V706M684.5 675.4V702.8M685.5 672.6V706.9M686.5 672V703.9M687.5 675V701.8M688.5 679.8V716M689.5 675.2V707.6M690.5 674.2V705.8M691.5 676.5V706.5M692.5 678.8V712.4M693.5 682.4V706.9M694.5 677.6V706.4M695.5 678.6V706.3M696.5 671.1V701.8M697.5 668.9V703.1M698.5 680.1V709.8M699.5 679.9V711.6M700.5 679.5V708.2M701.5 682.9V712.6M702.5 680.6V711.5M703.5 683V708.2M704.5 686.5V718.2M705.5 676.5V718.2M706.5 682.1V707.1M707.5 677.6V697.5M708.5 678.3V707.8M709.5 679.6V707.2M710.5 684.7V715.8M711.5 684.4V715.7M712.5 671.9V702.9M713.5 678.7V704.5M714.5 675.6V704.3M715.5 673.3V707.2M716.5 684.8V710.7M717.5 674.5V713.2M718.5 672.4V703.8M719.5 676.7V700.6M720.5 684.1V711.5M721.5 686.7V713.1M722.5 682.6V710.1M723.5 681.3V705M724.5 669.8V700.1M725.5 672.9V704.2M726.5 670.1V699.9M727.5 679.7V705.7M728.5 677V703M729.5 668.3V702.2M730.5 672.5V701.6M731.5 684.6V713.8M732.5 686.7V713.8M733.5 678V708.5M734.5 675.8V701M735.5 676.2V705.3M736.5 677.3V711M737.5 680.6V709.3M738.5 688.9V714.4M739.5 680.4V705.3M740.5 677V715.5M741.5 669.1V697.5M742.5 662.9V692.3M743.5 661.9V690.4M744.5 666.4V698.7M745.5 661.4V685.9M746.5 664.1V687.6M747.5 653.4V685.6M748.5 663.5V688.5M749.5 659.7V682M750.5 652V690.4M751.5 649.6V680.9M752.5 657.9V679.4M753.5 650.5V685.6M754.5 652V690.7M755.5 658.1V690.8M756.5 658.4V683M757.5 652.6V678.9M758.5 647.7V679.4M759.5 645.2V682.7M760.5 654.8V685.2M761.5 657.2V683.3M762.5 644.2V678.2M763.5 649V674.2M764.5 648.8V681.3M765.5 649.2V682.2M766.5 649.2V679.4M767.5 658.4V685.5M768.5 665V692.8M769.5 661.3V693.6M770.5 662.6V689.6M771.5 661V687.6M772.5 658.6V689.4M773.5 660.8V686.1M774.5 645.8V681.7M775.5 655.4V685M776.5 659.2V680.5M777.5 655.7V688.9M778.5 662.1V692.4M779.5 666.6V693.4M780.5 657.5V690.3M781.5 663.5V690.7M782.5 669.8V693.9M783.5 663.3V695.2M784.5 658.4V689.1M785.5 661.4V697.4M786.5 662.3V694.6M787.5 660V692.8M788.5 655.9V688.2M789.5 659.7V688.9M790.5 666.4V694.1M791.5 666.3V688.7M792.5 670.1V697.7M793.5 672.4V706.4M794.5 671.8V696.9M795.5 664.2V697.6M796.5 669.8V698.2M797.5 672V702.4M798.5 667.4V696.3M799.5 671.7V692.7M800.5 653V696.4M801.5 661.9V691.7M802.5 670V695M803.5 665.5V694.9M804.5 662.8V699.3M805.5 656.7V690.7M806.5 659.4V686.7M807.5 656.4V689.8M808.5 669.9V699.1M809.5 663.8V693.2M810.5 660.5V685.6M811.5 652.8V680.7M812.5 650.7V684.3M813.5 656.9V684.6M814.5 658.3V688.3M815.5 666.5V694.7M816.5 665.3V692.2M817.5 656.3V688.6M818.5 664.6V686.7M819.5 660.8V690.1M820.5 664.9V696M821.5 665.9V691.3M822.5 653.9V691M823.5 663.7V700.8M824.5 672.1V700.8M825.5 670.1V698.1M826.5 673.6V713.9M827.5 671.2V703.6M828.5 669V698.3M829.5 670.8V697.9M830.5 668.2V690.2M831.5 668.2V695.6M832.5 667.4V704.5M833.5 675.6V703.3M834.5 668.7V703.4M835.5 676.5V707.4M836.5 666.7V696.3M837.5 665V700.3M838.5 666.1V696.5M839.5 667.7V699M840.5 676.7V706.3M841.5 671.5V702.7M842.5 665V701.1M843.5 675.8V700.2M844.5 673.1V696.2M845.5 673.2V702M846.5 664.6V697.9M847.5 674.7V704.1M848.5 676.1V701.4M849.5 674V702M850.5 669.3V703M851.5 668.2V696.7M852.5 673.3V699.6M853.5 669.4V698M854.5 662.8V702.1M855.5 670.5V696.9M856.5 671.6V698.3M857.5 668.7V702.5M858.5 674.9V700.1M859.5 675.8V709.2M860.5 667.3V704.4M861.5 676.1V699.9M862.5 668.8V700.3M863.5 665.2V693.3M864.5 669.2V703.6M865.5 675.8V702.5M866.5 672.9V700.2M867.5 674.3V699.5M868.5 675.4V699M869.5 663.4V700.1M870.5 667.5V688.2M871.5 662.6V695.5M872.5 668.9V696.9M873.5 668.1V700M874.5 663.9V693.8M875.5 678.9V704.5M876.5 675.9V706.2M877.5 667.1V698.3M878.5 669.7V704M879.5 671.8V693M880.5 668V692.1M881.5 666.8V691.3M882.5 668.3V691.9M883.5 664.1V695.5M884.5 661.4V690.3M885.5 661.8V696.8M886.5 663.4V696.2M887.5 661.3V693.3M888.5 660.2V695.9M889.5 669.6V696.5M890.5 671.1V694M891.5 664.4V695.2M892.5 675.9V698.8M893.5 668.8V699.6M894.5 667.2V699.2M895.5 663.7V697.9M896.5 668.1V697M897.5 656.5V683.3M898.5 653.9V680.9M899.5 656.9V689.8M900.5 657.2V687.8M901.5 657.2V688.7M902.5 654.6V689M903.5 650.4V684.5M904.5 651.7V683.6M905.5 661.4V691.5M906.5 662.3V688.2M907.5 650.3V686.2M908.5 655.3V683.7M909.5 658.6V686.5M910.5 661.5V686.3M911.5 660.6V686M912.5 665.5V693M913.5 672.1V696.7M914.5 677.9V698.5M915.5 670.3V698.5M916.5 658.1V692.9M917.5 661.2V683.8M918.5 656.1V699.2M919.5 670.5V699.9M920.5 666.1V691.1M921.5 657.1V698.4M922.5 663V695.6M923.5 664.1V692.4M924.5 663.9V693.6M925.5 664.4V692.5M926.5 661.5V691.3M927.5 662.5V690.5M928.5 664.9V690.7M929.5 667.9V693.3M930.5 666.4V698.4M931.5 661.4V689.8M932.5 663.8V688.5M933.5 660.4V688.5M934.5 660.3V688.7M935.5 668.4V696.6M936.5 670.3V699.9M937.5 670.3V699.9M938.5 667.8V694.5M939.5 664.4V699M940.5 670.8V700.8M941.5 662.3V697.2M942.5 662.7V696.9M943.5 666.6V693.1M944.5 664.6V693.4M945.5 661.1V693.5M946.5 656.4V688.9M947.5 655.6V694.3M948.5 666.7V694.7M949.5 661.9V691.2M950.5 659.8V693.7M951.5 663.1V694.9M952.5 666V692.1M953.5 668.1V698.4M954.5 662.8V693.3M955.5 666.5V694.3M956.5 663.7V696.9M957.5 673.7V697.7M958.5 667.6V698.2M959.5 665.7V699.3M960.5 677.3V700.1M961.5 672.7V698.6M962.5 669.1V703.8M963.5 670.9V704.6M964.5 676V704.6M965.5 665.2V704.1M966.5 661.6V687.2M967.5 661.3V690.2M968.5 663.1V689.9M969.5 665V689.3M970.5 665.3V697.7M971.5 668.7V699.9M972.5 670.3V705M973.5 669.5V699.8M974.5 660.9V696.2M975.5 658.4V694.1M976.5 666.9V694.2M977.5 663.9V689.9M978.5 671V701.5M979.5 674.1V699.1M980.5 675.8V702.1M981.5 673.3V704M982.5 672V705.6M983.5 664V699.6M984.5 666.9V694M985.5 664.1V698.8M986.5 666.4V696.4M987.5 661.6V692.4M988.5 666.8V695.9M989.5 668.6V698M990.5 664.8V691.2M991.5 671V705.7M992.5 675V705.7M993.5 673.8V699.5M994.5 671.2V693.3M995.5 669.5V699.4M996.5 678.7V704.6M997.5 682.9V710.2M998.5 685.7V721.5M999.5 678.7V711.4M1000.5 677.8V707.4M1001.5 675.4V703.9M1002.5 674.6V698.2M1003.5 674.6V700.5M1004.5 674.3V701.7M1005.5 679.9V703.9M1006.5 671.2V699.7M1007.5 669.4V700.2M1008.5 665.5V698.4M1009.5 668.7V696.9M1010.5 679.5V701.9M1011.5 682.5V707.5M1012.5 680.6V705.2" stroke="#008000" stroke-width="1.0" fill="none"/><path d="M79.3 342V268" stroke="#008000" stroke-width="1.6"/><path d="M76.5 749H485.8" stroke="#1f5a1f" stroke-width="1.6"/><g font-family='"Liberation Sans", sans-serif' font-weight="bold" font-size="17" fill="#000"><text x="286.3" y="387.8" text-anchor="middle" >Time (ns)</text><text x="803" y="393.8" text-anchor="middle" >Residues</text><text x="281.3" y="794.4" text-anchor="middle" >Time (ps)</text><text x="806.2" y="795.7" text-anchor="middle" >Time (ps)</text><text transform="translate(40.2 170.5) rotate(-90)" text-anchor="middle" font-size="17.5">RMSD (nm)</text><text transform="translate(562.4 176) rotate(-90)" text-anchor="middle" font-size="17.5">RMSF (nm)</text><text transform="translate(42.7 575.8) rotate(-90)" text-anchor="middle">Number of H_bonds</text><text transform="translate(550.6 576.4) rotate(-90)" text-anchor="middle">Rg (nm)</text></g><g font-family='"Liberation Serif", serif' font-weight="bold" font-size="18.5" fill="#000"><text x="2" y="22.7">a)</text><text x="515.5" y="22.7">b)</text><clipPath id="cc"><rect x="0" y="395" width="40" height="30"/></clipPath><text x="10.3" y="404" >c</text><text x="17.6" y="404" clip-path="url(#cc)">)</text><text x="516.6" y="403.8">d)</text></g><rect x="355.4" y="16.6" width="133.8" height="45.8" fill="#fff" stroke="#8a8a8a" stroke-width="1"/><path d="M356.2 25H383.9" stroke="#f05a5a" stroke-width="1"/><text x="387" y="29.1" font-family='"Liberation Sans", sans-serif' font-weight="bold" font-size="11.2">pqsA_22217550</text><path d="M356.2 39.3H383.9" stroke="#4a4ae6" stroke-width="1"/><text x="387" y="43.4" font-family='"Liberation Sans", sans-serif' font-weight="bold" font-size="11.2">pqsA_559495</text><path d="M356.2 54.2H383.9" stroke="#3c9a5a" stroke-width="1"/><text x="387" y="58.3" font-family='"Liberation Sans", sans-serif' font-weight="bold" font-size="11.2">pqsA_Tetracycline</text><rect x="879.3" y="23.5" width="124.8" height="42.1" fill="#fff" stroke="#8a8a8a" stroke-width="1"/><path d="M880 30.9H905.9" stroke="#ff0000" stroke-width="2"/><text x="909" y="34.9" font-family='"Liberation Sans", sans-serif' font-weight="bold" font-size="10.5">pqsA_22217550</text><path d="M880 44.3H905.9" stroke="#0000ff" stroke-width="2"/><text x="909" y="48.3" font-family='"Liberation Sans", sans-serif' font-weight="bold" font-size="10.5">pqsA_559495</text><path d="M880 57.8H905.9" stroke="#008000" stroke-width="2"/><text x="909" y="61.8" font-family='"Liberation Sans", sans-serif' font-weight="bold" font-size="10.5">pqsA_Tetracycline</text><rect x="357.3" y="427.4" width="123.2" height="41.9" fill="#fff" stroke="#8a8a8a" stroke-width="1"/><path d="M358.2 435.1H383.9" stroke="#ff2020" stroke-width="1.6"/><text x="386.7" y="439.1" font-family='"Liberation Sans", sans-serif' font-weight="bold" font-size="10.5">pqsA_22217550</text><path d="M358.2 448.2H383.9" stroke="#2020ff" stroke-width="1.6"/><text x="386.7" y="452.2" font-family='"Liberation Sans", sans-serif' font-weight="bold" font-size="10.5">pqsA_559495</text><path d="M358.2 461.6H383.9" stroke="#108a30" stroke-width="1.6"/><text x="386.7" y="465.6" font-family='"Liberation Sans", sans-serif' font-weight="bold" font-size="10.5">pqsA_Tetracycline</text><rect x="884.3" y="424.7" width="124.4" height="42.4" fill="#fff" stroke="#8a8a8a" stroke-width="1"/><path d="M885.1 432.7H910.5" stroke="#ff2020" stroke-width="1.6"/><text x="913.6" y="436.7" font-family='"Liberation Sans", sans-serif' font-weight="bold" font-size="10.5">pqsA_22217550</text><path d="M885.1 446.3H910.5" stroke="#2020ff" stroke-width="1.6"/><text x="913.6" y="450.3" font-family='"Liberation Sans", sans-serif' font-weight="bold" font-size="10.5">pqsA_559495</text><path d="M885.1 459.7H910.5" stroke="#108a30" stroke-width="1.6"/><text x="913.6" y="463.7" font-family='"Liberation Sans", sans-serif' font-weight="bold" font-size="10.5">pqsA_Tetracycline</text></svg></body></html>
